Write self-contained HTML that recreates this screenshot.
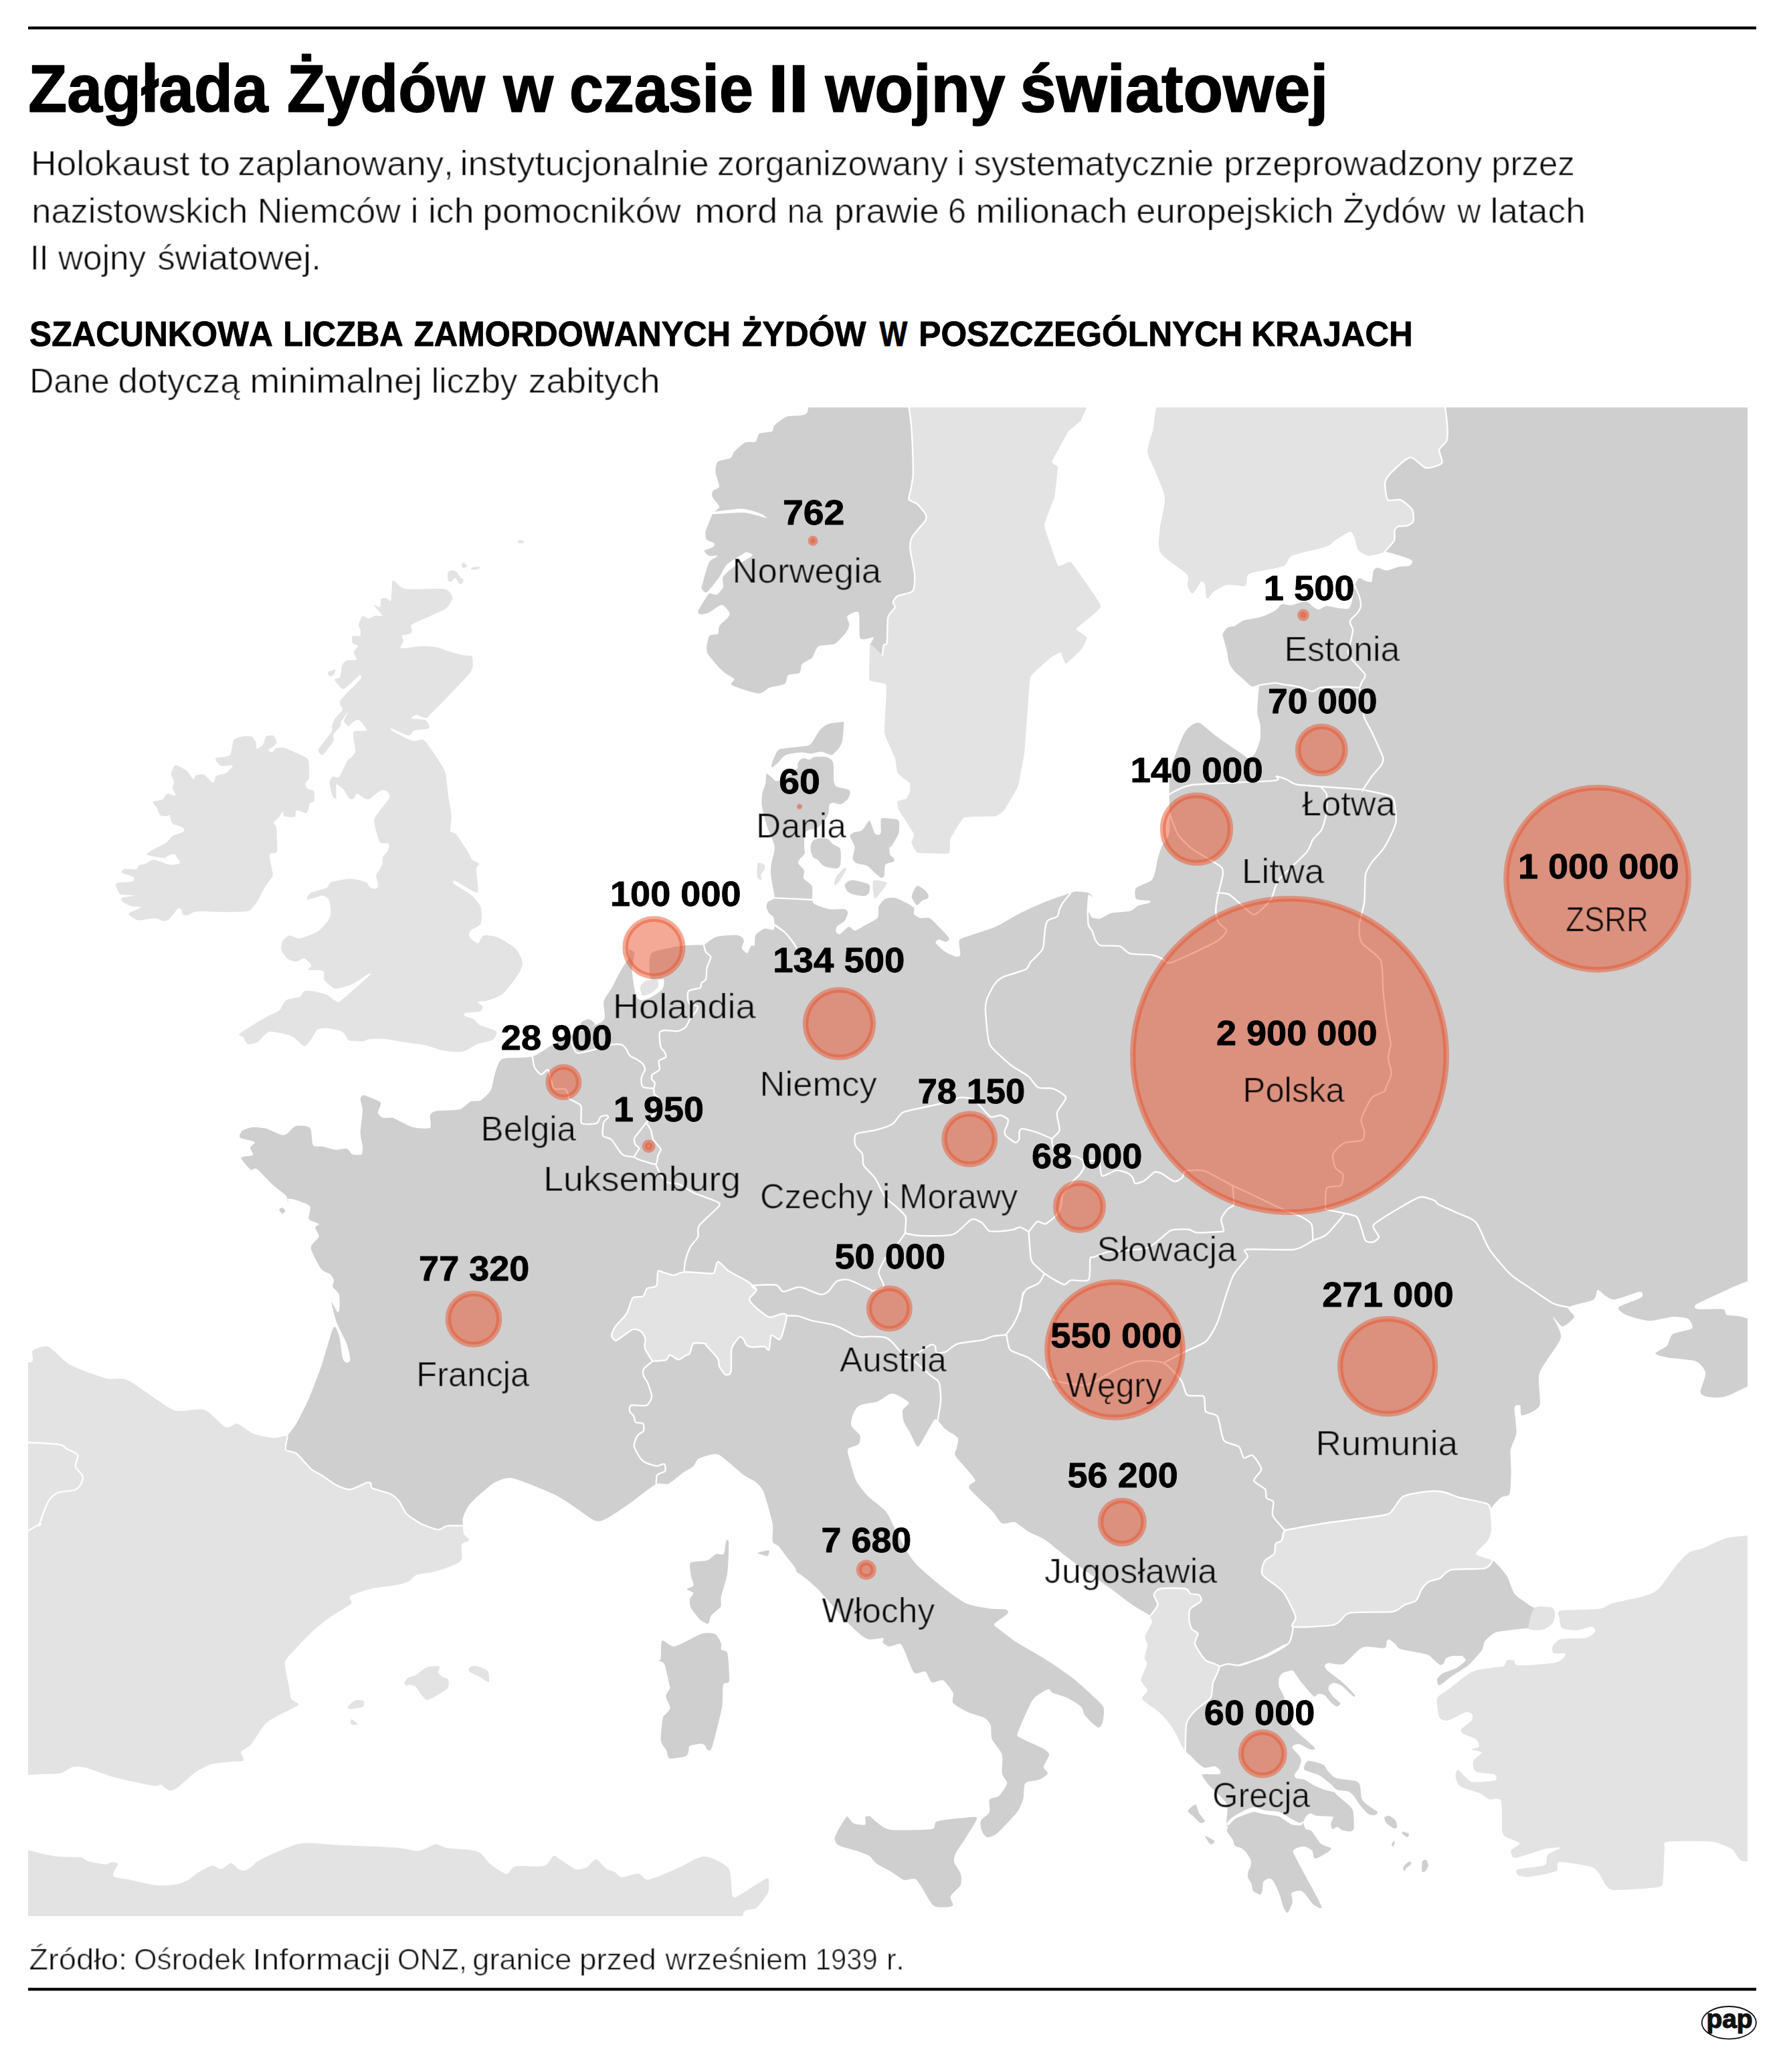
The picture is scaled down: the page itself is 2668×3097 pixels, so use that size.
<!DOCTYPE html><html lang="pl"><head><meta charset="utf-8"><title>Zagłada Żydów w czasie II wojny światowej</title>
<style>html,body{margin:0;padding:0;background:#fff}svg{display:block}text{font-family:"Liberation Sans",sans-serif;font-kerning:none}</style></head><body>
<svg width="2668" height="3097" viewBox="0 0 2668 3097">
<defs><filter id="thin" x="-2%" y="-20%" width="104%" height="140%"><feMorphology operator="erode" radius="1" result="e"/><feComponentTransfer in="SourceGraphic" result="f"><feFuncA type="linear" slope="0.55"/></feComponentTransfer><feMerge><feMergeNode in="f"/><feMergeNode in="e"/></feMerge></filter></defs>
<rect width="2668" height="3097" fill="#fff"/>
<rect x="42" y="39.6" width="2583" height="4.3" fill="#000"/>
<text stroke="#000" stroke-width="1.60" stroke-linejoin="round" y="166.7" font-size="100" font-weight="bold" fill="#000"><tspan x="42.3" textLength="358.5" lengthAdjust="spacingAndGlyphs">Zagłada</tspan> <tspan x="428.9" textLength="296.1" lengthAdjust="spacingAndGlyphs">Żydów</tspan> <tspan x="752.4" textLength="74.5" lengthAdjust="spacingAndGlyphs">w</tspan> <tspan x="851.0" textLength="275.0" lengthAdjust="spacingAndGlyphs">czasie</tspan> <tspan x="1148.2" textLength="60.6" lengthAdjust="spacingAndGlyphs">II</tspan> <tspan x="1233.4" textLength="269.1" lengthAdjust="spacingAndGlyphs">wojny</tspan> <tspan x="1524.5" textLength="460.9" lengthAdjust="spacingAndGlyphs">światowej</tspan></text>
<text filter="url(#thin)" y="262.0" font-size="52.5" font-weight="normal" fill="#000"><tspan x="46.0" textLength="237.3" lengthAdjust="spacingAndGlyphs">Holokaust</tspan> <tspan x="297.8" textLength="46.4" lengthAdjust="spacingAndGlyphs">to</tspan> <tspan x="355.4" textLength="322.5" lengthAdjust="spacingAndGlyphs">zaplanowany,</tspan> <tspan x="687.4" textLength="372.4" lengthAdjust="spacingAndGlyphs">instytucjonalnie</tspan> <tspan x="1072.0" textLength="345.0" lengthAdjust="spacingAndGlyphs">zorganizowany</tspan> <tspan x="1430.2">i</tspan> <tspan x="1455.4" textLength="358.7" lengthAdjust="spacingAndGlyphs">systematycznie</tspan> <tspan x="1829.2" textLength="386.0" lengthAdjust="spacingAndGlyphs">przeprowadzony</tspan> <tspan x="2229.3" textLength="124.5" lengthAdjust="spacingAndGlyphs">przez</tspan></text>
<text filter="url(#thin)" y="333.3" font-size="52.5" font-weight="normal" fill="#000"><tspan x="47.3" textLength="323.2" lengthAdjust="spacingAndGlyphs">nazistowskich</tspan> <tspan x="384.7" textLength="214.2" lengthAdjust="spacingAndGlyphs">Niemców</tspan> <tspan x="613.8">i</tspan> <tspan x="639.9" textLength="68.7" lengthAdjust="spacingAndGlyphs">ich</tspan> <tspan x="721.3" textLength="296.6" lengthAdjust="spacingAndGlyphs">pomocników</tspan> <tspan x="1038.2" textLength="124.0" lengthAdjust="spacingAndGlyphs">mord</tspan> <tspan x="1176.8" textLength="53.3" lengthAdjust="spacingAndGlyphs">na</tspan> <tspan x="1247.1" textLength="156.8" lengthAdjust="spacingAndGlyphs">prawie</tspan> <tspan x="1417.0" textLength="27.0" lengthAdjust="spacingAndGlyphs">6</tspan> <tspan x="1458.4" textLength="226.8" lengthAdjust="spacingAndGlyphs">milionach</tspan> <tspan x="1698.3" textLength="295.1" lengthAdjust="spacingAndGlyphs">europejskich</tspan> <tspan x="2007.6" textLength="152.8" lengthAdjust="spacingAndGlyphs">Żydów</tspan> <tspan x="2178.2" textLength="35.1" lengthAdjust="spacingAndGlyphs">w</tspan> <tspan x="2227.5" textLength="142.4" lengthAdjust="spacingAndGlyphs">latach</tspan></text>
<text filter="url(#thin)" y="403.0" font-size="52.5" font-weight="normal" fill="#000"><tspan x="45.0" textLength="27.6" lengthAdjust="spacingAndGlyphs">II</tspan> <tspan x="87.0" textLength="131.3" lengthAdjust="spacingAndGlyphs">wojny</tspan> <tspan x="235.2" textLength="244.7" lengthAdjust="spacingAndGlyphs">światowej.</tspan></text>
<text stroke="#000" stroke-width="0.82" stroke-linejoin="round" y="516.5" font-size="51.5" font-weight="bold" fill="#000"><tspan x="44.1" textLength="363.7" lengthAdjust="spacingAndGlyphs">SZACUNKOWA</tspan> <tspan x="423.3" textLength="179.4" lengthAdjust="spacingAndGlyphs">LICZBA</tspan> <tspan x="618.8" textLength="473.3" lengthAdjust="spacingAndGlyphs">ZAMORDOWANYCH</tspan> <tspan x="1109.0" textLength="185.5" lengthAdjust="spacingAndGlyphs">ŻYDÓW</tspan> <tspan x="1314.6" textLength="41.8" lengthAdjust="spacingAndGlyphs">W</tspan> <tspan x="1373.2" textLength="484.0" lengthAdjust="spacingAndGlyphs">POSZCZEGÓLNYCH</tspan> <tspan x="1870.6" textLength="241.0" lengthAdjust="spacingAndGlyphs">KRAJACH</tspan></text>
<text filter="url(#thin)" y="587.0" font-size="52.5" font-weight="normal" fill="#000"><tspan x="44.3" textLength="119.4" lengthAdjust="spacingAndGlyphs">Dane</tspan> <tspan x="176.5" textLength="182.2" lengthAdjust="spacingAndGlyphs">dotyczą</tspan> <tspan x="373.6" textLength="257.4" lengthAdjust="spacingAndGlyphs">minimalnej</tspan> <tspan x="644.8" textLength="128.7" lengthAdjust="spacingAndGlyphs">liczby</tspan> <tspan x="789.7" textLength="196.8" lengthAdjust="spacingAndGlyphs">zabitych</tspan></text>
<clipPath id="mc"><rect x="42" y="609" width="2570" height="2255"/></clipPath>
<g clip-path="url(#mc)">
<path d="M429.7,2146.7C431.5,2142.1 439.2,2134.5 442.9,2127.9C446.6,2121.3 457.3,2100.5 461.7,2090.4C466.1,2080.3 476.1,2054.0 480.4,2041.6C484.7,2029.2 495.3,1989.8 498.4,1984.5C501.5,1979.2 505.1,1991.2 506.7,1996.5C508.3,2001.8 511.0,2025.6 512.3,2030.3C513.6,2035.0 516.7,2036.5 518.0,2036.7C519.3,2036.9 523.6,2035.6 523.6,2032.2C523.6,2028.8 520.3,2014.1 518.0,2007.8C515.7,2001.5 506.3,1984.9 503.7,1977.8C501.1,1970.7 495.3,1948.5 495.4,1946.6C495.5,1944.7 503.4,1960.6 504.8,1961.6C506.2,1962.6 507.2,1958.4 507.4,1955.2C507.6,1952.0 507.9,1938.3 506.7,1934.6C505.5,1930.9 498.2,1925.7 497.3,1923.3C496.4,1920.9 499.6,1916.1 499.2,1913.9C498.8,1911.7 495.8,1906.6 493.6,1904.6C491.4,1902.6 483.8,1901.7 480.4,1897.1C477.0,1892.5 465.1,1870.9 464.7,1865.2C464.3,1859.5 476.0,1851.8 476.7,1848.3C477.4,1844.8 471.0,1837.3 471.0,1835.1C471.0,1832.9 477.8,1831.0 476.7,1829.5C475.6,1828.0 463.2,1825.1 461.7,1822.0C460.2,1818.9 465.7,1806.5 463.5,1803.2C461.3,1799.9 446.8,1795.1 442.9,1793.8C439.0,1792.5 431.1,1791.3 429.7,1792.0C428.3,1792.7 431.3,1800.5 431.1,1800.0C430.9,1799.5 430.4,1791.0 427.7,1787.6C425.0,1784.2 412.7,1775.5 407.6,1770.8C402.5,1766.1 387.9,1749.8 384.0,1747.2C380.1,1744.6 377.3,1750.2 374.6,1748.2C371.9,1746.2 360.1,1732.9 360.5,1730.4C360.9,1727.9 376.4,1728.2 378.0,1726.4C379.6,1724.6 373.6,1717.6 373.9,1715.3C374.2,1713.0 382.5,1708.7 380.7,1706.9C378.9,1705.1 361.0,1702.2 358.8,1700.2C356.6,1698.2 360.0,1691.9 362.2,1690.1C364.4,1688.3 373.2,1685.4 377.3,1685.0C381.4,1684.6 392.0,1685.3 397.5,1686.7C403.0,1688.1 419.3,1697.2 424.4,1696.8C429.5,1696.4 437.3,1685.0 441.2,1683.4C445.1,1681.8 455.3,1682.8 458.0,1683.4C460.7,1684.0 463.5,1685.1 464.7,1688.4C465.9,1691.7 466.1,1709.0 468.1,1711.9C470.1,1714.8 477.6,1712.8 481.5,1713.6C485.4,1714.4 497.4,1718.3 501.7,1718.7C506.0,1719.1 515.6,1716.2 518.5,1717.0C521.4,1717.8 524.4,1724.4 526.9,1725.4C529.4,1726.4 538.5,1726.8 540.3,1725.4C542.1,1724.0 542.2,1717.3 542.0,1713.6C541.8,1709.9 538.7,1699.7 538.7,1693.4C538.7,1687.1 542.0,1665.7 542.0,1659.8C542.0,1653.9 538.5,1645.7 538.7,1643.0C538.9,1640.3 540.4,1636.6 543.7,1637.0C547.0,1637.4 564.3,1644.7 567.2,1646.4C570.1,1648.1 569.2,1649.4 568.9,1651.4C568.6,1653.4 564.5,1661.0 564.9,1663.2C565.3,1665.4 569.9,1669.7 572.3,1670.6C574.7,1671.5 583.0,1670.1 585.7,1670.6C588.4,1671.1 592.1,1673.3 595.8,1675.0C599.5,1676.7 612.1,1683.8 617.6,1685.0C623.1,1686.2 639.9,1687.8 642.9,1685.7C645.9,1683.6 641.7,1669.5 642.9,1666.6C644.1,1663.7 647.8,1661.5 652.9,1660.5C658.0,1659.5 680.7,1659.8 686.6,1658.2C692.5,1656.6 699.7,1648.0 703.4,1646.4C707.1,1644.8 715.0,1646.7 718.5,1644.7C722.0,1642.7 731.1,1634.5 733.6,1629.6C736.1,1624.7 738.7,1607.8 740.3,1602.7C741.9,1597.6 745.1,1588.4 747.1,1585.9C749.1,1583.4 751.4,1582.3 757.1,1581.5C762.8,1580.7 787.9,1581.4 795.8,1579.2C803.7,1577.0 817.9,1565.9 824.4,1562.4C830.9,1558.9 846.3,1551.4 851.3,1548.9C856.3,1546.4 861.1,1544.0 867.1,1541.2C873.1,1538.4 898.3,1529.9 902.4,1524.7C906.5,1519.5 901.0,1502.0 902.4,1496.5C903.8,1491.0 911.6,1482.0 914.1,1477.6C916.6,1473.2 921.0,1463.3 923.5,1458.8C926.0,1454.3 933.2,1442.1 935.3,1438.8C937.4,1435.5 940.7,1432.9 941.2,1430.6C941.7,1428.3 939.2,1419.6 940.0,1418.8C940.8,1418.0 947.4,1421.9 948.2,1423.5C949.0,1425.1 947.5,1429.9 947.1,1432.9C946.7,1435.9 944.7,1445.0 944.7,1449.4C944.7,1453.8 946.7,1467.3 947.1,1470.6C947.5,1473.9 947.7,1475.3 948.2,1477.6C948.7,1479.9 950.6,1488.5 951.8,1490.6C953.0,1492.7 956.6,1495.2 958.8,1495.3C961.0,1495.4 967.8,1493.0 970.6,1491.8C973.4,1490.6 980.1,1486.4 982.4,1484.7C984.7,1483.0 989.5,1480.1 990.6,1477.6C991.7,1475.1 993.9,1465.1 991.8,1463.5C989.7,1461.9 975.4,1466.5 972.9,1463.5C970.4,1460.5 970.3,1442.3 970.6,1437.6C970.9,1432.9 971.5,1426.0 975.3,1423.5C979.1,1421.0 997.7,1417.7 1003.5,1416.5C1009.3,1415.3 1019.1,1413.4 1024.7,1412.9C1030.3,1412.4 1048.0,1412.7 1051.8,1412.2C1055.6,1411.7 1055.3,1409.6 1057.6,1408.2C1059.9,1406.8 1066.9,1401.2 1071.8,1400.0C1076.7,1398.8 1095.6,1397.5 1100.0,1397.6C1104.4,1397.7 1108.0,1400.1 1109.4,1401.2C1110.8,1402.3 1111.9,1405.2 1111.8,1407.1C1111.7,1409.0 1108.3,1415.5 1108.9,1417.6C1109.5,1419.7 1115.3,1425.1 1116.9,1424.7C1118.5,1424.3 1121.1,1415.5 1122.4,1414.1C1123.7,1412.7 1127.0,1414.8 1127.8,1412.9C1128.6,1411.0 1127.7,1400.5 1129.4,1397.6C1131.1,1394.7 1139.2,1389.2 1142.4,1388.2C1145.6,1387.2 1154.9,1391.3 1156.5,1389.4C1158.1,1387.5 1157.3,1374.7 1156.5,1371.8C1155.7,1368.9 1150.7,1366.6 1149.4,1364.7C1148.1,1362.8 1145.7,1357.2 1145.6,1355.2C1145.5,1353.2 1146.9,1349.2 1148.3,1347.7C1149.7,1346.2 1156.8,1344.8 1157.6,1342.1C1158.4,1339.4 1155.6,1328.8 1154.9,1324.5C1154.2,1320.2 1152.2,1308.8 1152.0,1304.9C1151.8,1301.0 1152.2,1295.8 1152.9,1291.2C1153.6,1286.6 1158.5,1272.2 1157.8,1265.7C1157.1,1259.2 1148.7,1242.2 1146.5,1235.1C1144.3,1228.0 1139.7,1210.5 1138.8,1204.9C1137.9,1199.3 1138.6,1191.2 1139.2,1187.3C1139.8,1183.4 1143.4,1175.1 1144.1,1171.6C1144.8,1168.1 1144.7,1158.3 1145.5,1156.9C1146.3,1155.5 1149.2,1158.6 1151.0,1159.8C1152.8,1161.0 1157.6,1167.6 1160.8,1167.6C1164.0,1167.6 1174.7,1162.1 1178.4,1159.8C1182.1,1157.5 1190.6,1150.1 1192.2,1148.0C1193.8,1145.9 1191.7,1143.7 1192.2,1142.2C1192.7,1140.7 1195.0,1136.3 1196.1,1135.3C1197.2,1134.3 1200.4,1133.3 1202.0,1133.3C1203.6,1133.3 1208.0,1135.5 1209.8,1135.3C1211.6,1135.1 1214.6,1131.9 1217.6,1131.4C1220.6,1130.9 1232.2,1130.7 1235.3,1131.4C1238.4,1132.1 1242.8,1135.4 1244.1,1137.3C1245.4,1139.2 1245.9,1144.7 1246.1,1148.0C1246.3,1151.3 1245.6,1162.5 1246.1,1165.7C1246.6,1168.9 1247.4,1173.8 1250.0,1175.5C1252.6,1177.2 1266.2,1179.1 1268.6,1180.4C1271.0,1181.7 1270.8,1184.6 1270.6,1186.3C1270.4,1188.0 1268.3,1193.3 1266.7,1195.1C1265.1,1196.9 1259.4,1201.4 1256.9,1202.0C1254.4,1202.6 1247.1,1199.9 1245.1,1200.0C1243.1,1200.1 1240.5,1200.7 1239.6,1202.9C1238.7,1205.1 1238.9,1214.9 1237.3,1218.6C1235.7,1222.3 1227.8,1231.9 1225.5,1234.3C1223.2,1236.7 1219.4,1238.5 1217.6,1239.2C1215.8,1239.9 1211.5,1239.4 1209.8,1240.2C1208.1,1241.0 1203.8,1243.1 1202.9,1246.1C1202.0,1249.1 1202.0,1262.3 1202.0,1265.7C1202.0,1269.1 1203.6,1273.4 1202.9,1275.5C1202.2,1277.6 1197.2,1281.6 1196.1,1283.3C1195.0,1285.0 1192.4,1288.1 1193.1,1290.2C1193.8,1292.3 1201.1,1298.4 1202.0,1301.0C1202.9,1303.6 1199.6,1310.0 1201.0,1312.7C1202.4,1315.4 1212.2,1320.8 1213.7,1324.5C1215.2,1328.2 1213.6,1340.9 1214.1,1344.1C1214.6,1347.2 1214.7,1349.8 1217.7,1351.5C1220.7,1353.2 1235.0,1358.1 1240.2,1359.0C1245.5,1359.9 1259.5,1358.3 1262.7,1359.0C1265.9,1359.7 1267.2,1362.6 1267.2,1364.6C1267.2,1366.6 1264.6,1373.5 1262.7,1375.9C1260.8,1378.3 1252.2,1383.2 1250.7,1385.2C1249.2,1387.2 1249.1,1391.4 1249.6,1392.7C1250.1,1394.0 1253.0,1397.4 1255.2,1396.5C1257.4,1395.6 1265.8,1385.9 1268.4,1385.2C1271.0,1384.5 1275.4,1390.9 1277.8,1390.9C1280.2,1390.9 1285.1,1387.4 1289.0,1385.2C1292.9,1383.0 1308.7,1375.6 1311.5,1372.1C1314.3,1368.6 1312.1,1358.5 1313.4,1355.2C1314.7,1351.9 1320.0,1345.4 1322.8,1343.9C1325.6,1342.4 1334.1,1341.4 1337.8,1342.1C1341.5,1342.8 1351.4,1347.8 1354.7,1349.6C1358.0,1351.3 1364.7,1355.1 1366.0,1357.1C1367.3,1359.1 1364.9,1364.8 1366.0,1366.5C1367.1,1368.2 1372.8,1371.4 1375.4,1372.1C1378.0,1372.8 1385.7,1371.0 1388.5,1372.1C1391.3,1373.2 1396.2,1378.0 1399.7,1381.5C1403.2,1385.0 1417.0,1399.0 1418.5,1402.1C1420.0,1405.2 1414.7,1407.6 1412.9,1407.8C1411.2,1408.0 1405.2,1403.8 1403.5,1404.0C1401.8,1404.2 1397.5,1407.4 1398.6,1409.6C1399.7,1411.8 1409.3,1420.4 1412.9,1422.8C1416.5,1425.2 1427.2,1429.9 1429.8,1430.3C1432.4,1430.7 1435.0,1429.1 1435.4,1426.5C1435.8,1423.9 1433.1,1410.6 1433.5,1407.8C1433.9,1405.0 1432.8,1404.7 1439.2,1402.1C1445.6,1399.5 1477.9,1389.6 1488.0,1385.2C1498.1,1380.8 1516.8,1369.0 1525.5,1364.6C1534.2,1360.2 1554.2,1351.2 1563.0,1347.7C1571.8,1344.2 1595.2,1336.3 1600.5,1334.5C1605.8,1332.7 1605.5,1332.5 1608.6,1332.5C1611.7,1332.5 1623.8,1333.4 1626.7,1334.5C1629.6,1335.6 1633.8,1341.2 1633.8,1341.6C1633.8,1342.0 1627.7,1335.7 1626.7,1337.6C1625.7,1339.5 1624.9,1354.4 1625.1,1357.7C1625.3,1361.0 1627.8,1364.2 1628.7,1365.8C1629.6,1367.4 1630.9,1371.0 1632.8,1371.8C1634.7,1372.6 1641.6,1373.7 1644.9,1372.9C1648.2,1372.1 1655.8,1366.1 1661.0,1364.8C1666.2,1363.5 1684.5,1363.1 1689.2,1361.8C1693.9,1360.5 1698.0,1355.1 1701.3,1353.7C1704.6,1352.3 1715.5,1350.5 1717.5,1349.7C1719.5,1348.9 1720.7,1347.3 1718.5,1346.6C1716.3,1345.9 1700.8,1345.7 1698.3,1343.6C1695.8,1341.5 1696.2,1331.0 1697.3,1328.5C1698.4,1326.0 1704.6,1323.9 1707.4,1322.4C1710.2,1320.9 1719.3,1317.6 1721.5,1315.4C1723.7,1313.2 1725.5,1307.1 1726.6,1303.3C1727.7,1299.5 1729.4,1287.6 1730.6,1283.1C1731.8,1278.6 1734.6,1269.5 1736.6,1265.0C1738.6,1260.5 1746.4,1253.5 1747.7,1244.8C1749.0,1236.1 1747.7,1198.8 1747.7,1190.3C1747.7,1181.8 1747.4,1176.6 1747.6,1172.2C1747.8,1167.8 1748.0,1157.4 1749.0,1152.5C1750.0,1147.6 1753.9,1136.0 1756.0,1130.1C1758.1,1124.2 1765.2,1106.7 1767.2,1102.1C1769.2,1097.5 1771.4,1093.2 1773.4,1090.9C1775.4,1088.6 1781.6,1083.1 1784.0,1082.0C1786.4,1080.9 1790.2,1079.2 1793.8,1081.1C1797.4,1083.0 1810.1,1094.3 1814.8,1097.9C1819.5,1101.5 1829.6,1108.5 1834.5,1111.9C1839.4,1115.3 1853.3,1124.8 1856.9,1127.3C1860.5,1129.8 1863.2,1132.9 1865.3,1132.9C1867.4,1132.9 1873.0,1130.6 1875.1,1127.3C1877.2,1124.0 1882.5,1110.1 1883.5,1104.9C1884.5,1099.7 1884.0,1087.1 1883.5,1082.5C1883.0,1077.9 1879.6,1070.9 1879.3,1065.7C1879.0,1060.5 1880.4,1042.5 1880.7,1037.7C1881.0,1032.9 1882.6,1025.7 1881.5,1024.3C1880.4,1022.9 1873.8,1027.1 1870.9,1025.9C1868.0,1024.7 1859.8,1016.4 1856.9,1013.9C1854.0,1011.4 1848.0,1006.7 1845.7,1004.1C1843.4,1001.5 1838.6,994.8 1837.3,991.5C1836.0,988.2 1835.3,979.9 1834.5,976.1C1833.7,972.3 1831.1,962.6 1830.3,959.3C1829.5,956.0 1827.0,950.6 1827.5,948.1C1828.0,945.6 1832.4,939.8 1834.5,938.3C1836.6,936.8 1842.8,936.8 1845.7,935.5C1848.6,934.2 1855.8,928.5 1859.7,927.1C1863.6,925.7 1875.7,924.2 1879.3,923.4C1882.9,922.6 1887.2,921.5 1890.5,920.1C1893.8,918.7 1904.4,913.7 1907.3,911.7C1910.2,909.7 1913.1,904.0 1915.7,903.2C1918.3,902.4 1925.5,905.1 1929.7,904.6C1933.9,904.1 1948.2,898.7 1952.1,899.0C1956.0,899.3 1961.0,906.1 1963.3,907.5C1965.6,908.9 1969.4,911.3 1971.7,911.1C1974.0,910.9 1977.7,906.4 1982.9,906.1C1988.1,905.8 2011.6,912.5 2016.5,908.9C2021.4,905.3 2023.1,880.4 2024.9,875.2C2026.7,870.0 2030.1,864.8 2031.9,864.0C2033.7,863.2 2038.2,867.5 2040.3,868.2C2042.4,868.9 2048.6,871.3 2050.1,869.6C2051.6,867.9 2051.8,855.9 2052.9,853.4C2054.0,850.9 2056.8,848.7 2059.1,848.6C2061.4,848.5 2068.8,853.0 2072.5,852.8C2076.2,852.6 2086.8,848.0 2090.8,847.2C2094.8,846.4 2104.3,846.8 2106.7,845.8C2109.1,844.8 2111.9,840.3 2111.2,838.8C2110.5,837.3 2105.4,834.8 2100.6,833.2C2095.8,831.6 2076.1,825.1 2069.7,824.8C2063.3,824.5 2050.5,830.7 2045.9,830.4C2041.3,830.1 2033.0,825.1 2030.5,822.0C2028.0,818.9 2026.4,807.0 2024.9,803.8C2023.4,800.6 2021.2,794.3 2017.9,794.6C2014.6,794.9 2001.0,804.1 1996.9,806.6C1992.8,809.1 1990.6,813.6 1982.9,816.4C1975.2,819.2 1938.6,827.0 1931.1,830.4C1923.6,833.8 1925.4,842.9 1918.5,845.8C1911.6,848.7 1878.7,853.8 1872.3,855.6C1865.9,857.4 1865.2,858.9 1863.9,861.2C1862.6,863.5 1864.5,873.7 1861.1,875.2C1857.7,876.7 1839.9,872.8 1834.5,873.8C1829.1,874.8 1818.3,881.2 1814.8,883.6C1811.3,886.0 1805.8,895.4 1804.2,894.3C1802.6,893.2 1802.5,876.7 1801.4,873.8C1800.4,870.9 1797.4,867.6 1795.2,869.1C1793.0,870.6 1784.9,886.3 1782.6,887.0C1780.3,887.7 1776.1,878.5 1775.1,875.2C1774.1,871.9 1778.9,864.1 1774.2,858.4C1769.5,852.7 1739.7,834.1 1735.0,826.2C1730.3,818.3 1733.2,800.0 1733.9,790.4C1734.6,780.8 1742.2,754.4 1741.4,744.3C1740.6,734.2 1729.9,712.0 1726.9,703.9C1723.9,695.8 1715.7,682.4 1715.4,675.0C1715.1,667.6 1722.8,647.1 1724.1,640.4C1725.4,633.7 1725.2,625.6 1726.9,617.3C1728.6,609.0 1738.5,569.0 1738.5,569.0C1738.5,569.0 2153.9,569.0 2153.9,569.0C2153.9,569.0 2652.0,569.0 2652.0,569.0C2652.0,569.0 2652.0,1899.1 2652.0,1899.1C2652.0,1899.1 2609.4,1915.9 2601.1,1919.3C2592.8,1922.7 2588.6,1924.4 2581.0,1927.9C2573.4,1931.4 2541.0,1945.9 2535.9,1949.3C2530.8,1952.7 2533.1,1955.9 2537.7,1956.8C2542.3,1957.7 2570.1,1955.8 2575.2,1956.8C2580.3,1957.8 2577.6,1964.1 2581.0,1965.4C2584.4,1966.7 2595.7,1965.9 2604.0,1968.3C2612.3,1970.7 2652.0,1985.6 2652.0,1985.6C2652.0,1985.6 2652.0,2052.0 2652.0,2052.0C2652.0,2052.0 2592.7,2082.4 2581.0,2086.6C2569.3,2090.8 2556.7,2088.5 2552.1,2087.8C2547.5,2087.1 2542.0,2085.0 2541.7,2080.8C2541.4,2076.6 2550.0,2057.4 2549.2,2052.0C2548.4,2046.6 2541.5,2037.4 2534.8,2034.7C2528.1,2032.0 2498.6,2030.3 2491.5,2028.9C2484.4,2027.5 2474.2,2025.1 2474.2,2023.1C2474.2,2021.1 2488.5,2015.0 2491.5,2011.6C2494.5,2008.2 2495.8,1997.3 2500.2,1994.3C2504.6,1991.3 2526.3,1988.3 2529.0,1985.6C2531.7,1982.9 2526.6,1973.2 2523.2,1971.2C2519.8,1969.2 2506.9,1968.0 2500.2,1968.3C2493.5,1968.6 2473.6,1974.4 2465.5,1974.1C2457.4,1973.8 2436.3,1967.8 2430.9,1965.4C2425.5,1963.0 2416.8,1956.9 2419.4,1953.9C2422.0,1950.9 2449.2,1942.2 2452.9,1939.5C2456.6,1936.8 2455.7,1930.5 2451.1,1930.8C2446.5,1931.1 2419.7,1941.7 2413.6,1942.4C2407.5,1943.1 2402.2,1938.3 2399.2,1936.6C2396.2,1934.9 2389.6,1927.2 2387.6,1927.9C2385.6,1928.6 2386.9,1939.4 2381.9,1942.4C2376.9,1945.4 2347.8,1950.9 2344.4,1953.9C2341.0,1956.9 2354.0,1964.9 2353.0,1968.3C2352.0,1971.7 2339.4,1982.7 2335.7,1982.7C2332.0,1982.7 2321.6,1966.3 2321.3,1968.3C2321.0,1970.3 2335.2,1990.3 2332.8,2000.1C2330.4,2009.9 2304.8,2040.2 2301.1,2052.0C2297.4,2063.8 2304.1,2093.6 2301.1,2101.0C2298.1,2108.4 2278.5,2115.5 2275.1,2115.5C2271.7,2115.5 2273.5,2102.4 2272.2,2101.0C2270.9,2099.6 2264.3,2099.2 2263.6,2103.9C2262.9,2108.6 2267.2,2134.0 2266.5,2141.4C2265.8,2148.8 2258.7,2160.6 2257.8,2167.4C2256.9,2174.2 2258.8,2192.4 2258.6,2200.0C2258.4,2207.6 2258.2,2228.3 2256.4,2232.8C2254.6,2237.3 2246.6,2235.7 2243.3,2238.5C2240.0,2241.3 2229.5,2251.1 2228.0,2256.8C2226.5,2262.5 2230.7,2281.8 2230.2,2287.4C2229.7,2293.0 2226.3,2300.8 2223.6,2304.9C2220.9,2309.0 2206.6,2319.3 2207.4,2322.4C2208.2,2325.5 2225.0,2327.3 2230.2,2331.1C2235.4,2334.9 2248.2,2349.2 2252.0,2355.1C2255.8,2361.0 2260.1,2377.0 2262.9,2381.3C2265.7,2385.6 2272.5,2389.7 2276.1,2392.3C2279.7,2394.9 2288.4,2401.9 2293.5,2403.2C2298.6,2404.5 2316.1,2401.9 2319.7,2403.2C2323.3,2404.5 2324.1,2411.3 2324.1,2414.1C2324.1,2416.9 2322.0,2424.6 2319.7,2427.2C2317.4,2429.8 2308.6,2435.2 2304.5,2436.0C2300.4,2436.8 2289.9,2433.8 2284.8,2433.8C2279.7,2433.8 2266.7,2435.2 2260.8,2436.0C2254.9,2436.8 2239.4,2438.3 2234.5,2440.3C2229.6,2442.3 2221.5,2450.3 2219.2,2453.4C2216.9,2456.5 2217.7,2462.5 2214.9,2466.6C2212.1,2470.7 2200.6,2483.8 2195.2,2488.4C2189.8,2493.0 2174.1,2502.3 2169.0,2505.9C2163.9,2509.5 2153.9,2518.5 2151.5,2519.0C2149.1,2519.5 2147.5,2512.3 2148.0,2510.3C2148.5,2508.3 2152.4,2503.5 2155.9,2501.5C2159.4,2499.5 2173.6,2495.1 2177.7,2492.8C2181.8,2490.5 2189.8,2483.7 2190.8,2481.8C2191.8,2479.9 2186.7,2477.0 2186.5,2476.2C2186.3,2475.4 2191.3,2475.4 2189.4,2475.3C2187.5,2475.2 2173.9,2474.9 2170.6,2475.3C2167.3,2475.7 2162.7,2477.4 2161.2,2478.8C2159.7,2480.2 2158.7,2486.0 2157.6,2487.1C2156.5,2488.2 2153.4,2488.9 2151.8,2488.2C2150.2,2487.5 2145.7,2483.0 2143.5,2481.2C2141.3,2479.4 2138.8,2474.8 2132.9,2472.9C2127.0,2471.0 2098.4,2466.5 2092.9,2464.7C2087.4,2462.9 2087.8,2459.2 2085.9,2457.6C2084.0,2456.0 2078.0,2451.1 2076.5,2450.6C2075.0,2450.1 2073.4,2451.8 2072.9,2452.9C2072.4,2454.0 2072.3,2458.8 2071.8,2460.0C2071.3,2461.2 2072.3,2463.2 2068.2,2463.5C2064.1,2463.8 2043.5,2459.6 2036.5,2462.4C2029.5,2465.2 2014.2,2484.4 2008.2,2487.1C2002.2,2489.8 1988.0,2485.5 1984.7,2485.9C1981.4,2486.3 1980.0,2489.2 1980.0,2490.6C1980.0,2492.0 1981.7,2494.9 1984.7,2497.6C1987.7,2500.3 2001.2,2510.0 2005.9,2514.1C2010.6,2518.2 2022.8,2530.4 2024.7,2532.9C2026.6,2535.4 2024.6,2536.8 2022.4,2535.3C2020.2,2533.8 2009.2,2522.3 2005.9,2520.0C2002.6,2517.7 1996.3,2515.4 1994.1,2515.3C1991.9,2515.2 1988.1,2517.6 1987.1,2518.8C1986.1,2520.0 1985.1,2523.7 1985.9,2525.9C1986.7,2528.1 1992.0,2535.3 1994.1,2537.6C1996.2,2539.9 2003.0,2544.4 2003.5,2545.9C2004.0,2547.4 2000.2,2550.5 1998.8,2550.6C1997.4,2550.7 1994.0,2549.0 1991.8,2547.1C1989.6,2545.2 1982.5,2535.9 1980.0,2534.1C1977.5,2532.3 1972.5,2531.7 1970.6,2531.8C1968.7,2531.9 1966.5,2537.4 1963.5,2535.3C1960.5,2533.2 1948.3,2518.5 1944.7,2514.1C1941.1,2509.7 1935.0,2499.5 1932.9,2497.6C1930.8,2495.7 1929.0,2497.2 1927.1,2497.6C1925.2,2498.0 1918.3,2500.0 1916.5,2501.2C1914.7,2502.4 1912.3,2505.9 1911.8,2508.2C1911.3,2510.5 1911.0,2518.0 1911.8,2521.2C1912.6,2524.4 1917.2,2530.1 1918.8,2535.3C1920.4,2540.5 1924.5,2560.7 1925.9,2565.9C1927.3,2571.1 1928.4,2576.7 1930.6,2580.0C1932.8,2583.3 1940.7,2590.4 1944.7,2594.1C1948.7,2597.8 1962.6,2609.3 1964.7,2611.8C1966.8,2614.3 1963.6,2615.2 1962.4,2615.3C1961.2,2615.4 1956.4,2613.9 1954.1,2612.9C1951.8,2611.9 1944.7,2607.6 1942.4,2607.1C1940.1,2606.6 1935.3,2607.5 1934.1,2608.2C1932.9,2608.9 1930.8,2611.0 1931.8,2612.9C1932.8,2614.8 1940.9,2622.5 1942.4,2624.7C1943.9,2626.9 1944.8,2629.6 1944.7,2631.8C1944.6,2634.0 1942.3,2641.2 1941.2,2643.5C1940.1,2645.8 1935.8,2650.2 1935.3,2651.8C1934.8,2653.4 1934.9,2656.6 1936.5,2657.6C1938.1,2658.6 1946.2,2658.8 1949.4,2660.0C1952.6,2661.2 1959.9,2666.4 1963.5,2668.2C1967.1,2670.0 1976.4,2674.1 1980.0,2675.3C1983.6,2676.5 1991.9,2677.8 1994.1,2678.8C1996.3,2679.8 1996.3,2681.3 1998.8,2683.5C2001.3,2685.7 2012.5,2694.8 2015.3,2697.6C2018.1,2700.4 2021.4,2703.0 2022.4,2707.1C2023.4,2711.2 2024.1,2729.3 2023.5,2732.9C2022.9,2736.5 2019.7,2737.3 2017.6,2737.6C2015.5,2737.9 2008.1,2736.1 2005.9,2735.3C2003.7,2734.5 2000.4,2730.7 1998.8,2730.6C1997.2,2730.5 1992.9,2734.6 1991.8,2734.1C1990.7,2733.6 1989.3,2728.0 1989.4,2725.9C1989.5,2723.8 1992.9,2717.7 1992.9,2716.5C1992.9,2715.3 1992.3,2715.6 1989.4,2715.3C1986.5,2715.0 1971.8,2714.6 1968.2,2714.1C1964.6,2713.6 1960.6,2710.6 1958.8,2710.6C1957.0,2710.6 1954.1,2712.6 1952.9,2714.1C1951.7,2715.6 1948.3,2721.2 1948.2,2723.5C1948.1,2725.8 1950.4,2732.6 1951.8,2734.1C1953.2,2735.6 1958.4,2735.3 1960.0,2736.5C1961.6,2737.7 1964.1,2742.4 1965.9,2744.7C1967.7,2747.0 1972.6,2754.4 1975.3,2756.5C1978.0,2758.6 1988.3,2761.0 1989.4,2762.4C1990.5,2763.8 1987.2,2766.4 1984.7,2768.2C1982.2,2770.0 1970.7,2776.8 1968.2,2777.6C1965.7,2778.4 1964.3,2776.7 1963.5,2775.3C1962.7,2773.9 1962.8,2767.7 1961.2,2765.9C1959.6,2764.1 1952.2,2760.4 1949.4,2760.0C1946.6,2759.6 1939.5,2761.4 1937.6,2762.4C1935.7,2763.4 1932.1,2764.8 1932.9,2768.2C1933.7,2771.6 1939.8,2782.3 1944.7,2791.8C1949.6,2801.3 1973.1,2842.9 1975.3,2849.4C1977.5,2855.9 1966.5,2849.4 1963.5,2847.1C1960.5,2844.8 1951.9,2831.9 1949.4,2829.4C1946.9,2826.9 1944.6,2825.9 1942.4,2825.9C1940.2,2825.9 1931.8,2827.3 1930.6,2829.4C1929.4,2831.5 1932.5,2840.1 1931.8,2843.5C1931.1,2846.9 1926.2,2857.8 1924.7,2858.8C1923.2,2859.8 1920.3,2855.2 1918.8,2851.8C1917.3,2848.4 1913.7,2834.2 1911.8,2829.4C1909.9,2824.6 1904.3,2813.1 1902.4,2810.6C1900.5,2808.1 1897.0,2807.9 1895.3,2808.2C1893.6,2808.5 1889.2,2811.0 1888.2,2812.9C1887.2,2814.8 1887.6,2822.5 1887.1,2824.7C1886.6,2826.9 1885.2,2831.7 1883.5,2831.8C1881.8,2831.9 1874.4,2827.8 1872.9,2825.9C1871.4,2824.0 1871.5,2817.6 1870.6,2815.3C1869.7,2813.0 1865.7,2808.1 1865.2,2805.9C1864.7,2803.7 1865.4,2798.4 1865.9,2796.5C1866.4,2794.6 1869.0,2791.3 1869.4,2789.4C1869.8,2787.5 1870.2,2782.5 1869.4,2780.0C1868.6,2777.5 1864.0,2770.3 1862.4,2768.2C1860.8,2766.1 1857.2,2763.5 1855.3,2762.4C1853.4,2761.3 1847.4,2760.3 1845.9,2758.8C1844.4,2757.3 1843.8,2751.9 1842.4,2749.4C1841.0,2746.9 1834.9,2739.8 1834.1,2737.6C1833.3,2735.4 1835.4,2732.0 1835.3,2730.6C1835.2,2729.2 1833.0,2729.8 1832.9,2725.9C1832.8,2722.1 1835.9,2703.1 1834.1,2697.6C1832.3,2692.1 1820.9,2682.4 1817.6,2678.8C1814.3,2675.2 1808.2,2669.8 1805.9,2667.1C1803.6,2664.4 1798.4,2657.1 1797.6,2655.3C1796.8,2653.5 1795.9,2652.2 1798.8,2651.8C1801.7,2651.4 1819.5,2652.5 1822.4,2651.8C1825.3,2651.1 1824.3,2647.3 1823.5,2645.9C1822.7,2644.5 1817.9,2640.4 1815.3,2640.0C1812.7,2639.6 1803.9,2642.8 1801.2,2642.4C1798.5,2642.0 1794.3,2638.6 1791.8,2636.5C1789.3,2634.4 1782.3,2627.0 1780.0,2624.7C1777.7,2622.4 1774.9,2621.5 1771.7,2616.6C1768.5,2611.7 1757.4,2589.5 1753.0,2582.9C1748.6,2576.3 1739.5,2565.3 1734.2,2560.3C1728.9,2555.3 1710.1,2543.6 1707.9,2539.7C1705.7,2535.8 1715.6,2529.9 1715.4,2526.6C1715.2,2523.3 1706.2,2516.1 1706.1,2511.5C1706.0,2506.9 1714.1,2491.0 1714.7,2487.1C1715.3,2483.2 1710.8,2481.1 1710.9,2477.8C1711.0,2474.5 1715.3,2462.7 1715.4,2459.0C1715.5,2455.3 1710.9,2449.8 1711.7,2445.9C1712.5,2442.0 1721.3,2428.8 1722.2,2425.2C1723.1,2421.6 1722.6,2418.2 1719.2,2415.1C1715.8,2412.0 1699.5,2403.4 1692.9,2398.9C1686.3,2394.4 1670.8,2382.1 1662.9,2376.4C1655.0,2370.7 1634.2,2356.4 1625.4,2350.1C1616.6,2343.8 1595.3,2327.7 1587.8,2322.0C1580.3,2316.3 1567.6,2305.2 1561.5,2301.3C1555.4,2297.4 1540.5,2291.3 1535.3,2288.2C1530.0,2285.1 1520.9,2276.4 1516.5,2275.1C1512.1,2273.8 1501.6,2278.9 1497.7,2276.9C1493.8,2274.9 1488.4,2264.3 1482.7,2258.2C1477.0,2252.1 1451.4,2229.6 1448.5,2224.3C1445.6,2219.0 1457.9,2215.8 1457.9,2213.0C1457.9,2210.2 1452.0,2204.3 1448.5,2199.9C1445.0,2195.5 1430.1,2179.7 1427.9,2175.5C1425.7,2171.3 1429.4,2167.3 1429.8,2164.2C1430.2,2161.1 1433.7,2152.5 1431.7,2149.2C1429.7,2145.9 1416.4,2139.2 1412.9,2136.1C1409.4,2133.0 1403.6,2124.4 1401.6,2122.9C1399.6,2121.4 1398.2,2120.3 1396.0,2122.9C1393.8,2125.5 1385.7,2140.8 1382.9,2145.4C1380.1,2150.0 1374.2,2162.7 1371.6,2162.3C1369.0,2161.9 1362.7,2146.1 1360.3,2141.7C1357.9,2137.3 1352.3,2128.7 1351.0,2124.8C1349.7,2120.9 1348.2,2111.2 1349.1,2107.9C1350.0,2104.6 1359.4,2099.2 1358.5,2096.6C1357.6,2094.0 1344.9,2086.9 1341.6,2085.4C1338.3,2083.9 1333.8,2082.4 1330.3,2083.5C1326.8,2084.6 1316.8,2092.8 1311.5,2094.8C1306.2,2096.8 1289.5,2098.4 1285.3,2100.4C1281.1,2102.4 1277.4,2108.2 1275.9,2111.7C1274.4,2115.2 1271.0,2126.5 1272.1,2130.4C1273.2,2134.3 1284.0,2142.1 1285.3,2145.4C1286.6,2148.7 1285.5,2156.2 1283.4,2158.6C1281.3,2161.0 1268.7,2163.3 1267.2,2166.1C1265.7,2168.9 1268.9,2177.5 1270.3,2183.0C1271.7,2188.5 1276.5,2206.9 1279.6,2213.0C1282.7,2219.1 1291.2,2230.0 1296.5,2235.5C1301.8,2241.0 1319.6,2253.5 1324.7,2259.9C1329.8,2266.3 1336.1,2282.6 1340.1,2290.1C1344.1,2297.6 1355.0,2317.8 1358.9,2323.9C1362.8,2330.0 1367.8,2336.7 1373.9,2342.6C1380.0,2348.5 1403.1,2368.1 1411.4,2374.5C1419.7,2380.9 1437.1,2393.6 1445.2,2397.1C1453.3,2400.6 1474.0,2403.6 1480.8,2404.6C1487.6,2405.6 1500.5,2404.8 1503.4,2405.7C1506.3,2406.6 1508.0,2409.6 1506.0,2412.1C1504.0,2414.6 1488.3,2424.7 1486.5,2427.1C1484.7,2429.5 1486.3,2429.4 1490.2,2432.7C1494.1,2436.0 1512.0,2449.7 1520.3,2455.2C1528.6,2460.7 1551.9,2473.5 1561.5,2479.6C1571.1,2485.7 1594.0,2501.0 1602.8,2507.8C1611.6,2514.6 1631.1,2532.6 1636.6,2537.8C1642.1,2543.1 1648.4,2548.4 1649.7,2552.8C1651.0,2557.2 1649.0,2572.0 1647.9,2575.4C1646.8,2578.8 1643.5,2583.0 1640.4,2581.7C1637.3,2580.4 1624.4,2567.7 1621.6,2564.1C1618.8,2560.5 1619.1,2554.1 1616.0,2551.0C1612.9,2547.9 1600.2,2540.2 1595.3,2537.8C1590.4,2535.4 1576.9,2531.8 1573.6,2530.3C1570.3,2528.8 1569.9,2524.3 1567.2,2524.7C1564.5,2525.1 1553.4,2531.7 1550.3,2534.1C1547.2,2536.5 1544.3,2538.7 1540.9,2545.3C1537.5,2551.9 1522.8,2584.3 1521.0,2590.4C1519.2,2596.5 1521.6,2595.3 1525.9,2597.9C1530.2,2600.5 1552.9,2610.1 1557.8,2612.9C1562.7,2615.7 1568.1,2619.0 1568.3,2622.3C1568.5,2625.6 1560.0,2637.7 1559.7,2641.0C1559.4,2644.3 1566.7,2648.2 1566.0,2650.4C1565.3,2652.6 1557.9,2658.1 1554.0,2659.8C1550.1,2661.6 1535.1,2662.1 1532.3,2665.4C1529.5,2668.7 1531.0,2683.0 1529.6,2688.0C1528.2,2693.0 1524.9,2702.5 1520.3,2708.6C1515.7,2714.7 1495.5,2736.1 1490.2,2740.5C1484.9,2744.9 1477.8,2746.5 1475.2,2746.1C1472.6,2745.7 1468.8,2739.6 1467.7,2736.8C1466.6,2734.0 1464.5,2725.0 1465.8,2721.7C1467.1,2718.4 1477.5,2712.3 1479.0,2708.6C1480.5,2704.9 1477.3,2692.6 1479.0,2689.8C1480.7,2687.0 1490.1,2687.0 1493.2,2684.2C1496.3,2681.4 1504.7,2669.3 1505.2,2665.4C1505.7,2661.5 1498.6,2655.4 1497.7,2650.4C1496.8,2645.4 1499.5,2628.2 1497.7,2622.3C1496.0,2616.4 1484.7,2604.7 1482.7,2599.7C1480.7,2594.7 1482.1,2582.8 1480.8,2579.1C1479.5,2575.4 1475.7,2570.2 1471.5,2567.8C1467.3,2565.4 1450.7,2561.1 1445.2,2558.5C1439.7,2555.9 1426.9,2548.6 1424.5,2545.3C1422.1,2542.0 1426.2,2534.2 1424.5,2530.3C1422.8,2526.4 1413.2,2513.3 1409.5,2511.5C1405.8,2509.7 1395.7,2516.0 1392.6,2514.5C1389.5,2513.0 1386.3,2500.1 1383.2,2498.4C1380.1,2496.7 1369.9,2503.6 1366.4,2500.3C1362.9,2497.0 1355.6,2475.3 1353.2,2470.3C1350.8,2465.3 1348.5,2458.2 1345.7,2457.1C1342.9,2456.0 1332.7,2461.1 1329.6,2460.9C1326.5,2460.7 1320.5,2456.6 1319.4,2455.2C1318.3,2453.8 1322.3,2449.1 1320.0,2448.5C1317.7,2447.9 1303.1,2450.8 1299.4,2450.4C1295.7,2450.0 1292.0,2447.9 1288.1,2444.8C1284.2,2441.7 1273.0,2432.0 1265.6,2424.1C1258.2,2416.2 1231.3,2384.6 1224.3,2377.2C1217.3,2369.8 1209.4,2363.6 1205.5,2360.3C1201.6,2357.0 1192.5,2351.1 1190.5,2349.1C1188.5,2347.1 1190.3,2346.0 1188.6,2343.4C1186.8,2340.8 1178.3,2330.3 1175.5,2326.6C1172.7,2322.9 1166.6,2314.1 1164.2,2311.5C1161.8,2308.9 1155.9,2307.9 1154.8,2304.0C1153.7,2300.1 1156.3,2286.3 1154.8,2277.8C1153.3,2269.3 1144.5,2238.0 1141.7,2230.8C1138.9,2223.6 1133.9,2218.9 1130.4,2215.8C1126.9,2212.7 1117.8,2209.2 1111.7,2204.6C1105.6,2200.0 1083.2,2180.0 1077.9,2176.4C1072.6,2172.8 1070.5,2173.0 1066.6,2173.4C1062.7,2173.8 1047.6,2178.1 1044.1,2180.2C1040.6,2182.3 1039.2,2189.0 1036.6,2191.4C1034.0,2193.8 1026.0,2197.7 1021.6,2200.8C1017.2,2203.9 1003.9,2215.6 999.1,2217.7C994.3,2219.8 986.9,2215.2 980.3,2218.5C973.7,2221.8 951.1,2240.1 942.8,2245.9C934.5,2251.7 915.1,2265.2 909.0,2268.4C902.9,2271.6 895.9,2275.1 890.2,2273.3C884.5,2271.6 867.2,2257.9 860.2,2253.4C853.2,2248.9 839.0,2239.0 830.2,2234.6C821.4,2230.2 793.2,2218.8 785.1,2215.8C777.0,2212.8 766.4,2208.9 760.7,2209.1C755.0,2209.3 743.1,2213.2 736.3,2217.7C729.5,2222.2 707.7,2241.8 702.5,2247.7C697.3,2253.6 693.2,2264.7 692.0,2268.4C690.8,2272.1 691.9,2278.2 692.0,2279.6C692.1,2281.0 695.3,2280.5 692.5,2280.6C689.7,2280.7 672.5,2279.9 668.1,2280.6C663.7,2281.3 659.4,2286.6 655.0,2286.3C650.6,2286.0 636.1,2280.7 630.6,2278.0C625.1,2275.3 611.9,2266.9 608.0,2263.0C604.1,2259.1 599.6,2247.8 596.8,2244.3C594.0,2240.8 588.3,2235.3 583.6,2233.0C578.9,2230.7 559.6,2226.2 556.2,2224.4C552.8,2222.6 555.4,2218.2 554.4,2217.2C553.4,2216.2 551.6,2215.0 548.0,2216.1C544.4,2217.2 528.9,2225.8 523.6,2226.2C518.3,2226.6 507.9,2222.4 502.9,2219.9C497.9,2217.4 484.8,2207.6 480.4,2204.8C476.0,2202.0 469.8,2200.0 465.4,2196.2C461.0,2192.4 447.4,2175.6 442.9,2172.2C438.4,2168.8 428.6,2170.3 427.1,2167.3C425.6,2164.3 427.9,2151.3 429.7,2146.7Z" fill="#cfcfcf"/>
<path d="M1085.4,2303.3C1086.3,2301.3 1089.0,2300.3 1089.2,2305.9C1089.4,2311.5 1088.6,2341.6 1087.3,2351.0C1086.0,2360.4 1079.1,2380.7 1077.9,2386.6C1076.7,2392.5 1078.8,2398.3 1077.1,2401.6C1075.3,2404.9 1065.1,2411.8 1062.9,2414.8C1060.7,2417.8 1060.4,2426.4 1058.4,2427.1C1056.4,2427.8 1049.0,2423.2 1046.0,2420.4C1043.0,2417.6 1034.7,2407.0 1032.9,2403.5C1031.2,2400.0 1030.6,2393.0 1031.0,2390.4C1031.4,2387.8 1037.1,2382.8 1036.6,2381.0C1036.1,2379.2 1026.5,2376.7 1026.5,2375.4C1026.5,2374.1 1035.9,2372.1 1036.6,2369.7C1037.3,2367.3 1033.4,2358.6 1032.9,2354.7C1032.4,2350.8 1029.3,2338.5 1032.1,2335.9C1034.9,2333.3 1052.8,2333.7 1057.3,2332.2C1061.8,2330.7 1067.6,2323.9 1070.4,2322.8C1073.2,2321.7 1080.0,2325.1 1081.7,2322.8C1083.5,2320.5 1084.5,2305.3 1085.4,2303.3Z" fill="#cfcfcf"/>
<path d="M1132.3,2320.9C1133.6,2320.2 1147.5,2316.6 1149.2,2317.2C1151.0,2317.8 1148.6,2325.1 1147.3,2325.8C1146.0,2326.5 1139.8,2324.2 1138.0,2323.6C1136.2,2323.0 1131.0,2321.6 1132.3,2320.9Z" fill="#cfcfcf"/>
<path d="M989.7,2452.3C992.1,2450.2 1001.7,2462.1 1008.5,2460.9C1015.3,2459.7 1040.9,2444.4 1047.9,2442.2C1054.9,2440.0 1065.0,2440.6 1068.5,2442.2C1072.0,2443.8 1076.8,2453.4 1077.9,2456.1C1079.0,2458.8 1076.8,2463.7 1077.9,2465.4C1079.0,2467.2 1085.9,2465.6 1087.3,2471.1C1088.7,2476.6 1090.6,2506.9 1089.9,2512.4C1089.2,2517.9 1082.2,2513.3 1080.9,2518.0C1079.6,2522.7 1081.0,2541.5 1079.0,2552.5C1077.0,2563.5 1066.6,2605.4 1064.0,2612.6C1061.4,2619.8 1057.7,2614.9 1056.5,2614.5C1055.3,2614.1 1054.5,2609.9 1053.5,2608.9C1052.5,2607.9 1050.5,2606.1 1047.9,2606.2C1045.3,2606.3 1033.2,2608.2 1031.0,2609.6C1028.8,2611.0 1029.8,2616.4 1029.1,2618.2C1028.4,2620.0 1027.9,2623.8 1024.6,2625.0C1021.3,2626.2 1004.3,2629.4 1001.0,2628.4C997.7,2627.4 997.6,2619.6 996.1,2616.4C994.6,2613.2 988.4,2607.0 987.8,2601.3C987.2,2595.6 989.9,2572.2 990.8,2567.6C991.7,2563.0 994.0,2563.7 995.3,2561.9C996.6,2560.1 1001.7,2555.6 1001.7,2552.5C1001.7,2549.4 995.3,2539.2 995.3,2535.7C995.3,2532.2 1001.0,2524.3 1001.7,2522.5C1002.4,2520.7 1002.0,2523.9 1001.0,2519.9C1000.0,2515.9 995.2,2492.4 993.4,2488.0C991.6,2483.6 985.9,2483.4 985.2,2482.3C984.5,2481.2 987.3,2482.1 987.8,2478.6C988.3,2475.1 987.3,2454.4 989.7,2452.3Z" fill="#cfcfcf"/>
<path d="M1775.5,2706.7C1775.9,2704.7 1784.8,2696.9 1786.8,2697.3C1788.8,2697.7 1790.7,2707.7 1792.4,2710.5C1794.1,2713.3 1800.8,2720.0 1801.0,2721.7C1801.2,2723.4 1796.4,2725.6 1794.3,2724.7C1792.2,2723.8 1785.2,2716.3 1783.0,2714.2C1780.8,2712.1 1775.1,2708.7 1775.5,2706.7Z" fill="#cfcfcf"/>
<path d="M1801.8,2744.3C1802.2,2743.8 1813.8,2750.4 1814.9,2751.8C1816.0,2753.2 1812.6,2757.2 1811.1,2756.3C1809.6,2755.4 1801.4,2744.8 1801.8,2744.3Z" fill="#cfcfcf"/>
<path d="M1265.6,2715.1C1264.1,2717.1 1256.4,2728.9 1254.3,2732.7C1252.2,2736.5 1247.7,2744.7 1247.6,2747.7C1247.5,2750.7 1249.8,2756.0 1253.6,2758.2C1257.4,2760.4 1275.3,2764.7 1280.6,2766.5C1285.9,2768.3 1296.0,2771.8 1299.4,2774.0C1302.8,2776.2 1306.4,2782.8 1310.1,2785.5C1313.8,2788.2 1325.9,2794.0 1330.7,2796.8C1335.5,2799.6 1346.7,2808.4 1351.3,2809.9C1355.9,2811.4 1365.1,2805.5 1370.1,2809.9C1375.1,2814.3 1389.2,2842.8 1394.5,2847.5C1399.8,2852.2 1411.7,2850.5 1415.2,2850.5C1418.7,2850.5 1423.8,2849.4 1424.5,2847.5C1425.2,2845.6 1419.5,2837.8 1420.8,2834.3C1422.1,2830.8 1434.0,2821.4 1435.8,2817.5C1437.5,2813.6 1436.9,2804.5 1435.8,2800.6C1434.7,2796.7 1427.3,2787.2 1426.4,2783.7C1425.5,2780.2 1426.1,2775.1 1428.3,2770.5C1430.5,2765.9 1441.5,2750.5 1445.2,2744.3C1448.9,2738.1 1461.1,2720.4 1460.2,2717.2C1459.3,2714.0 1444.7,2716.6 1437.7,2717.2C1430.7,2717.8 1405.4,2720.5 1400.1,2722.5C1394.8,2724.5 1400.7,2732.7 1392.6,2734.1C1384.5,2735.5 1340.3,2736.1 1330.7,2734.9C1321.1,2733.7 1313.6,2725.9 1310.1,2723.6C1306.6,2721.3 1302.7,2715.9 1300.7,2715.0C1298.7,2714.1 1294.1,2714.7 1293.2,2716.1C1292.3,2717.5 1295.2,2726.3 1293.2,2727.4C1291.2,2728.5 1279.4,2726.9 1276.3,2725.5C1273.2,2724.1 1268.1,2716.6 1266.9,2715.4C1265.7,2714.2 1267.1,2713.1 1265.6,2715.1Z" fill="#cfcfcf"/>
<path d="M1949.4,2644.7C1947.6,2642.2 1952.0,2632.6 1955.3,2631.8C1958.6,2631.0 1974.2,2635.8 1977.6,2637.6C1981.0,2639.4 1982.5,2644.8 1984.7,2647.1C1986.9,2649.4 1991.6,2655.8 1996.5,2657.6C2001.4,2659.4 2022.9,2661.0 2027.1,2662.4C2031.3,2663.8 2031.9,2666.4 2032.9,2669.4C2033.9,2672.4 2034.1,2684.9 2035.3,2688.2C2036.5,2691.5 2040.8,2695.3 2043.5,2697.6C2046.2,2699.9 2057.4,2706.4 2058.8,2708.2C2060.2,2710.0 2056.8,2712.5 2055.3,2712.9C2053.8,2713.3 2048.4,2713.3 2045.9,2711.8C2043.4,2710.3 2036.6,2703.0 2034.1,2700.0C2031.6,2697.0 2026.9,2688.5 2024.7,2685.9C2022.5,2683.3 2018.3,2678.8 2015.3,2677.6C2012.3,2676.4 2002.1,2676.8 1998.8,2675.3C1995.5,2673.8 1990.4,2667.3 1987.1,2664.7C1983.8,2662.1 1975.0,2655.2 1970.6,2652.9C1966.2,2650.6 1951.2,2647.2 1949.4,2644.7Z" fill="#cfcfcf"/>
<path d="M2069.4,2716.5C2069.9,2715.3 2074.6,2713.6 2076.5,2714.1C2078.4,2714.6 2084.5,2719.3 2085.9,2721.2C2087.3,2723.1 2088.5,2729.2 2088.2,2730.6C2087.9,2732.0 2085.4,2733.6 2083.5,2732.9C2081.6,2732.2 2073.4,2726.6 2071.8,2724.7C2070.2,2722.8 2068.9,2717.7 2069.4,2716.5Z" fill="#cfcfcf"/>
<path d="M2096.5,2737.6C2097.6,2737.6 2105.1,2740.2 2105.9,2741.2C2106.7,2742.2 2104.6,2745.9 2103.5,2745.9C2102.4,2745.9 2097.3,2742.2 2096.5,2741.2C2095.7,2740.2 2095.4,2737.6 2096.5,2737.6Z" fill="#cfcfcf"/>
<path d="M2081.2,2754.1C2081.7,2753.3 2084.4,2751.3 2084.7,2751.8C2085.0,2752.3 2084.0,2758.0 2083.5,2758.8C2083.0,2759.6 2080.3,2759.3 2080.0,2758.8C2079.7,2758.3 2080.7,2754.9 2081.2,2754.1Z" fill="#cfcfcf"/>
<path d="M2097.6,2790.6C2098.4,2788.8 2104.5,2782.9 2105.9,2782.4C2107.3,2781.9 2109.9,2784.7 2109.4,2785.9C2108.9,2787.1 2102.4,2791.5 2101.2,2792.9C2100.0,2794.3 2099.2,2797.9 2098.8,2797.6C2098.4,2797.3 2096.8,2792.4 2097.6,2790.6Z" fill="#cfcfcf"/>
<path d="M2125.9,2782.4C2126.6,2780.3 2130.8,2779.3 2131.8,2780.0C2132.8,2780.7 2134.9,2786.3 2134.8,2788.2C2134.7,2790.1 2131.7,2795.4 2130.6,2796.5C2129.5,2797.6 2125.9,2799.2 2125.4,2797.6C2124.9,2796.0 2125.2,2784.5 2125.9,2782.4Z" fill="#cfcfcf"/>
<path d="M1801.2,2744.7C1801.9,2744.2 1814.3,2750.4 1815.3,2751.8C1816.3,2753.2 1811.0,2757.3 1809.4,2756.5C1807.8,2755.7 1800.5,2745.2 1801.2,2744.7Z" fill="#cfcfcf"/>
<path d="M1208.3,569.0C1208.3,569.0 1210.1,610.7 1206.4,616.9C1202.7,623.1 1182.1,620.3 1176.4,622.5C1170.7,624.7 1160.2,633.1 1157.6,635.7C1155.0,638.3 1156.5,643.6 1153.9,645.0C1151.3,646.4 1137.9,646.2 1135.1,648.0C1132.3,649.8 1132.1,658.5 1129.5,660.1C1126.9,661.7 1116.3,660.1 1112.6,661.9C1108.9,663.6 1100.0,672.5 1097.6,675.1C1095.2,677.7 1094.8,682.8 1092.0,684.5C1089.2,686.2 1075.8,687.7 1073.2,690.1C1070.6,692.5 1069.2,700.7 1069.4,705.1C1069.6,709.5 1075.5,724.3 1075.1,727.6C1074.7,730.9 1066.9,731.5 1065.7,733.2C1064.5,735.0 1063.5,739.8 1064.6,742.6C1065.7,745.4 1075.0,754.8 1075.1,757.6C1075.2,760.4 1067.5,764.4 1065.7,767.0C1064.0,769.6 1061.4,776.9 1060.1,780.2C1058.8,783.5 1054.8,792.1 1054.4,795.2C1054.0,798.3 1054.8,804.4 1056.3,806.4C1057.8,808.4 1066.5,810.8 1067.6,812.1C1068.7,813.4 1067.5,816.4 1065.7,817.7C1063.9,819.0 1053.2,821.8 1052.5,823.3C1051.8,824.8 1057.7,829.9 1060.1,830.8C1062.5,831.7 1073.2,829.7 1073.2,830.8C1073.2,831.9 1062.7,835.6 1060.1,840.2C1057.5,844.8 1052.0,865.7 1050.7,870.3C1049.4,874.9 1048.1,877.9 1048.8,879.6C1049.5,881.4 1053.2,887.3 1056.3,885.3C1059.4,883.3 1071.6,867.5 1075.1,862.7C1078.6,857.9 1082.4,847.9 1086.3,844.0C1090.2,840.1 1105.4,831.2 1108.9,829.0C1112.4,826.8 1114.7,825.0 1116.4,825.2C1118.2,825.4 1126.5,828.0 1123.9,830.8C1121.3,833.6 1098.8,845.9 1093.8,849.6C1088.8,853.3 1082.2,859.4 1080.7,862.7C1079.2,866.0 1081.8,874.7 1080.7,877.8C1079.6,880.9 1073.7,887.9 1071.3,889.0C1068.9,890.1 1062.7,885.4 1060.1,887.1C1057.5,888.9 1050.8,900.9 1048.8,904.0C1046.8,907.1 1043.4,911.7 1043.2,913.4C1043.0,915.1 1044.9,918.1 1046.9,918.3C1048.9,918.5 1056.4,917.0 1060.1,915.3C1063.8,913.6 1075.3,904.0 1078.8,904.0C1082.3,904.0 1089.0,913.1 1090.1,915.3C1091.2,917.5 1090.0,920.4 1088.2,922.8C1086.5,925.2 1076.8,933.1 1075.1,935.9C1073.3,938.7 1075.0,945.4 1073.2,947.2C1071.5,949.0 1062.0,947.7 1060.1,951.0C1058.2,954.3 1054.7,969.3 1057.1,975.4C1059.5,981.5 1076.0,998.9 1080.7,1003.5C1085.4,1008.1 1096.1,1012.4 1097.6,1014.8C1099.1,1017.2 1089.6,1021.6 1093.8,1024.1C1098.0,1026.6 1126.6,1036.1 1133.2,1036.5C1139.8,1036.9 1145.5,1029.6 1150.1,1027.9C1154.7,1026.2 1169.4,1024.5 1172.7,1022.3C1176.0,1020.1 1175.7,1011.1 1178.3,1009.1C1180.9,1007.1 1192.8,1007.4 1195.2,1005.4C1197.6,1003.4 1196.7,994.8 1198.9,992.2C1201.1,989.6 1211.1,986.0 1213.9,982.9C1216.7,979.8 1219.4,968.4 1223.3,966.0C1227.2,963.6 1242.9,964.6 1247.7,962.2C1252.5,959.8 1262.1,948.6 1264.6,945.3C1267.1,942.0 1269.3,936.9 1269.5,934.1C1269.7,931.3 1264.9,923.1 1266.5,920.9C1268.1,918.7 1281.2,911.6 1283.4,915.3C1285.6,919.0 1283.8,948.2 1285.3,952.8C1286.8,957.4 1294.1,954.7 1296.5,954.7C1298.9,954.7 1305.5,951.7 1305.9,952.8C1306.3,953.9 1300.4,962.6 1300.3,964.1C1300.2,965.6 1302.6,964.2 1304.8,966.0C1307.0,967.8 1317.1,979.3 1319.0,979.1C1320.9,978.9 1320.1,966.3 1320.9,964.1C1321.7,961.9 1325.1,965.1 1325.8,960.3C1326.5,955.5 1325.9,928.9 1327.3,922.8C1328.7,916.7 1336.9,910.4 1337.8,907.8C1338.7,905.2 1334.4,902.3 1334.8,900.3C1335.2,898.3 1338.2,892.9 1341.6,890.9C1345.0,888.9 1361.1,887.1 1364.1,883.4C1367.1,879.7 1367.5,866.4 1367.1,859.0C1366.7,851.6 1360.7,826.2 1360.3,819.6C1359.9,813.0 1360.7,807.5 1363.3,802.7C1365.9,797.9 1380.5,782.2 1382.9,778.3C1385.3,774.4 1384.9,771.7 1383.6,768.9C1382.3,766.1 1374.2,756.3 1371.6,753.9C1369.0,751.5 1362.6,749.4 1361.1,748.3C1359.6,747.2 1358.1,749.1 1358.5,744.5C1358.9,739.9 1364.4,721.4 1364.8,708.9C1365.2,696.4 1363.6,653.8 1362.2,637.5C1360.8,621.2 1352.8,569.0 1352.8,569.0C1352.8,569.0 1208.3,569.0 1208.3,569.0Z" fill="#cfcfcf"/>
<path d="M1152.9,1144.1C1153.4,1142.0 1157.2,1131.3 1158.8,1128.4C1160.4,1125.5 1161.2,1121.2 1166.7,1119.6C1172.2,1118.0 1200.4,1115.8 1205.9,1114.7C1211.4,1113.6 1211.4,1112.5 1213.7,1109.8C1216.0,1107.1 1222.7,1094.4 1225.5,1091.2C1228.3,1088.0 1233.4,1083.8 1237.3,1082.4C1241.2,1081.0 1256.0,1079.1 1258.8,1079.0C1261.6,1078.9 1261.2,1078.1 1261.2,1081.4C1261.2,1084.7 1259.9,1102.8 1259.2,1106.9C1258.5,1111.0 1256.3,1114.5 1254.9,1116.7C1253.5,1118.9 1248.6,1124.1 1247.1,1125.5C1245.6,1126.9 1244.5,1128.6 1242.2,1128.4C1239.9,1128.2 1231.0,1123.7 1227.5,1123.5C1224.0,1123.3 1215.2,1126.4 1211.8,1126.5C1208.4,1126.6 1202.4,1124.3 1198.0,1124.5C1193.6,1124.7 1178.6,1126.6 1174.5,1128.4C1170.4,1130.2 1165.0,1138.1 1162.7,1140.2C1160.4,1142.3 1156.0,1146.0 1154.9,1146.5C1153.8,1147.0 1152.4,1146.2 1152.9,1144.1Z" fill="#cfcfcf"/>
<path d="M1211.8,1263.7C1212.2,1261.6 1214.1,1257.2 1215.7,1255.9C1217.3,1254.6 1223.0,1253.1 1225.5,1252.9C1228.0,1252.7 1235.0,1252.9 1237.3,1253.9C1239.6,1254.9 1243.0,1260.2 1245.1,1261.8C1247.2,1263.4 1253.5,1265.8 1254.9,1267.6C1256.3,1269.4 1256.8,1274.5 1256.9,1277.5C1257.0,1280.5 1256.6,1290.7 1255.9,1293.1C1255.2,1295.5 1253.4,1297.7 1251.0,1298.0C1248.6,1298.3 1238.0,1296.9 1235.3,1296.1C1232.6,1295.3 1229.0,1292.5 1227.5,1291.2C1226.0,1289.9 1223.9,1286.4 1222.5,1285.3C1221.1,1284.2 1216.9,1282.8 1215.7,1281.4C1214.5,1280.0 1212.7,1275.6 1212.2,1273.5C1211.7,1271.4 1211.4,1265.8 1211.8,1263.7Z" fill="#cfcfcf"/>
<path d="M1270.6,1250.0C1270.5,1247.5 1274.4,1245.1 1276.5,1244.1C1278.6,1243.1 1285.9,1242.8 1288.2,1241.2C1290.5,1239.6 1294.7,1232.1 1296.1,1230.4C1297.5,1228.7 1299.1,1225.8 1300.0,1226.5C1300.9,1227.2 1303.0,1234.0 1303.9,1236.3C1304.8,1238.6 1306.7,1244.7 1307.8,1246.1C1308.9,1247.5 1312.7,1248.2 1313.7,1248.0C1314.7,1247.8 1316.4,1246.8 1316.7,1244.1C1317.0,1241.4 1315.9,1227.0 1316.7,1224.5C1317.5,1222.0 1320.6,1222.9 1323.5,1222.9C1326.4,1222.9 1338.8,1224.0 1341.2,1224.9C1343.6,1225.8 1343.9,1227.9 1344.1,1230.4C1344.3,1232.9 1344.4,1242.2 1343.1,1246.1C1341.8,1250.0 1334.9,1261.2 1333.3,1263.7C1331.7,1266.2 1329.7,1266.0 1329.4,1267.6C1329.1,1269.2 1329.6,1275.7 1330.4,1277.5C1331.2,1279.3 1335.7,1282.1 1336.3,1283.3C1336.9,1284.5 1336.8,1287.2 1335.3,1288.2C1333.8,1289.2 1325.1,1289.8 1323.5,1292.2C1321.9,1294.6 1322.4,1306.5 1321.6,1308.8C1320.8,1311.1 1318.5,1312.5 1316.7,1311.8C1314.9,1311.1 1308.3,1305.0 1305.9,1302.9C1303.5,1300.8 1299.1,1295.6 1296.1,1294.1C1293.1,1292.6 1282.9,1291.5 1280.4,1290.2C1277.9,1288.9 1274.8,1286.2 1274.5,1283.3C1274.2,1280.4 1278.0,1269.6 1277.5,1265.7C1277.0,1261.8 1270.7,1252.5 1270.6,1250.0Z" fill="#cfcfcf"/>
<path d="M1262.7,1322.5C1262.9,1320.7 1267.0,1317.5 1268.6,1316.7C1270.2,1315.9 1273.3,1315.2 1276.5,1315.7C1279.7,1316.2 1293.4,1319.6 1296.1,1320.6C1298.8,1321.6 1299.7,1322.9 1300.0,1324.5C1300.3,1326.1 1299.9,1332.6 1299.0,1334.3C1298.1,1336.0 1294.8,1338.9 1292.2,1339.2C1289.6,1339.5 1279.5,1338.1 1276.5,1337.3C1273.5,1336.5 1268.3,1334.1 1266.7,1332.4C1265.1,1330.7 1262.5,1324.3 1262.7,1322.5Z" fill="#cfcfcf"/>
<path d="M1362.7,1340.2C1362.7,1336.8 1368.3,1325.2 1370.6,1324.1C1372.9,1323.0 1380.4,1328.8 1382.4,1330.4C1384.4,1332.0 1387.3,1336.7 1387.8,1338.2C1388.3,1339.7 1387.4,1342.2 1386.3,1343.1C1385.2,1344.0 1380.2,1345.0 1378.4,1346.1C1376.6,1347.2 1372.4,1353.6 1370.6,1352.9C1368.8,1352.2 1362.7,1343.6 1362.7,1340.2Z" fill="#cfcfcf"/>
<path d="M868.6,1528.0C869.9,1526.8 878.0,1523.0 880.4,1523.3C882.8,1523.6 889.2,1529.3 889.0,1530.8C888.8,1532.3 881.1,1535.6 878.8,1535.9C876.5,1536.2 870.6,1534.4 869.4,1533.5C868.2,1532.6 867.3,1529.2 868.6,1528.0Z" fill="#cfcfcf"/>
<path d="M417.4,1808.1C417.4,1807.0 421.1,1804.9 422.2,1805.1C423.2,1805.3 426.4,1809.0 426.4,1810.0C426.4,1811.0 422.9,1814.3 421.9,1814.1C420.8,1813.9 417.4,1809.1 417.4,1808.1Z" fill="#cfcfcf"/>
<path d="M429.7,2146.7C427.6,2144.6 415.0,2149.7 409.1,2149.3C403.2,2148.9 385.4,2145.4 379.1,2142.9C372.8,2140.4 359.5,2129.0 354.7,2127.9C349.9,2126.8 343.5,2135.9 337.8,2133.5C332.1,2131.1 313.8,2110.1 305.9,2107.3C298.0,2104.5 276.5,2109.5 270.2,2109.1C263.9,2108.7 260.7,2108.8 251.5,2103.5C242.3,2098.2 201.9,2068.2 191.4,2063.3C180.9,2058.4 168.8,2062.7 161.4,2061.1C154.0,2059.5 134.6,2052.5 127.6,2049.8C120.6,2047.1 107.8,2042.1 101.3,2037.8C94.8,2033.5 78.1,2014.9 72.0,2012.7C65.9,2010.5 51.7,2016.3 48.8,2019.0C45.9,2021.7 52.4,2033.5 46.9,2035.9C41.4,2038.3 2.0,2039.7 2.0,2039.7C2.0,2039.7 2.0,2657.1 2.0,2657.1C2.0,2657.1 42.2,2653.0 52.5,2652.2C62.8,2651.4 83.5,2651.7 90.1,2650.4C96.7,2649.1 104.4,2642.0 108.8,2641.0C113.2,2640.0 120.6,2640.3 127.6,2642.1C134.6,2643.8 157.1,2652.8 168.9,2656.0C180.7,2659.2 220.6,2667.8 228.9,2669.1C237.2,2670.4 238.0,2666.9 240.2,2667.3C242.4,2667.7 245.9,2671.8 247.7,2672.9C249.4,2674.0 253.0,2676.8 255.2,2676.6C257.4,2676.4 262.1,2674.3 266.5,2671.0C270.9,2667.7 287.0,2652.4 292.7,2648.5C298.4,2644.6 309.6,2638.9 315.3,2637.2C321.0,2635.4 335.8,2634.2 341.5,2633.5C347.2,2632.8 361.9,2633.3 364.1,2631.6C366.3,2629.8 359.0,2621.3 360.3,2618.5C361.6,2615.7 371.1,2612.0 375.3,2607.2C379.5,2602.4 391.6,2582.0 396.0,2577.2C400.4,2572.4 407.1,2569.3 412.9,2565.9C418.7,2562.5 443.3,2551.4 445.9,2548.3C448.5,2545.2 437.1,2543.0 435.4,2539.6C433.7,2536.2 432.7,2524.9 431.6,2519.0C430.5,2513.1 426.2,2493.8 426.0,2489.0C425.8,2484.2 424.9,2483.6 429.7,2477.7C434.5,2471.8 459.6,2445.5 467.3,2438.3C475.0,2431.1 488.7,2420.6 495.4,2415.8C502.1,2411.0 521.4,2400.5 524.7,2397.0C528.0,2393.5 520.0,2388.3 523.6,2385.7C527.2,2383.1 547.4,2376.5 555.5,2374.5C563.6,2372.5 586.4,2370.2 593.0,2368.9C599.6,2367.6 608.3,2365.0 611.8,2363.2C615.3,2361.4 618.3,2355.6 623.1,2353.8C627.9,2352.1 645.4,2350.6 653.1,2348.2C660.8,2345.8 684.4,2337.8 688.7,2333.2C693.0,2328.6 688.6,2312.3 689.9,2308.8C691.2,2305.3 698.7,2304.2 700.0,2303.2C701.3,2302.2 701.5,2301.5 700.7,2300.3C699.9,2299.1 694.2,2295.2 693.2,2292.8C692.2,2290.4 692.1,2281.0 692.0,2279.6C691.9,2278.2 695.3,2280.5 692.5,2280.6C689.7,2280.7 672.5,2279.9 668.1,2280.6C663.7,2281.3 659.4,2286.6 655.0,2286.3C650.6,2286.0 636.1,2280.7 630.6,2278.0C625.1,2275.3 611.9,2266.9 608.0,2263.0C604.1,2259.1 599.6,2247.8 596.8,2244.3C594.0,2240.8 588.3,2235.3 583.6,2233.0C578.9,2230.7 559.6,2226.2 556.2,2224.4C552.8,2222.6 555.4,2218.2 554.4,2217.2C553.4,2216.2 551.6,2215.0 548.0,2216.1C544.4,2217.2 528.9,2225.8 523.6,2226.2C518.3,2226.6 507.9,2222.4 502.9,2219.9C497.9,2217.4 484.8,2207.6 480.4,2204.8C476.0,2202.0 469.8,2200.0 465.4,2196.2C461.0,2192.4 447.4,2175.6 442.9,2172.2C438.4,2168.8 428.6,2170.3 427.1,2167.3C425.6,2164.3 431.8,2148.8 429.7,2146.7Z" fill="#e3e3e3"/>
<path d="M1319.0,979.1C1318.2,979.2 1305.7,966.8 1304.8,966.0C1303.9,965.2 1300.6,961.6 1300.3,964.1C1300.0,966.6 1298.3,1013.6 1299.5,1016.6C1300.7,1019.6 1323.6,1020.2 1324.7,1024.1C1325.8,1028.0 1321.4,1090.1 1322.1,1095.5C1322.8,1100.9 1336.8,1130.0 1337.8,1133.0C1338.8,1136.0 1340.5,1153.6 1341.6,1155.5C1342.7,1157.4 1359.4,1169.9 1360.3,1170.5C1361.2,1171.1 1360.3,1166.9 1360.3,1167.5C1360.3,1168.1 1360.6,1181.2 1360.3,1182.5C1360.0,1183.8 1355.6,1193.0 1354.7,1193.8C1353.8,1194.6 1342.2,1196.8 1341.6,1197.6C1341.0,1198.4 1342.2,1208.3 1343.4,1210.7C1344.6,1213.1 1365.1,1244.0 1366.0,1246.4C1366.9,1248.8 1361.9,1258.1 1362.2,1259.5C1362.5,1260.9 1368.8,1273.7 1371.6,1274.5C1374.4,1275.3 1416.1,1276.6 1418.5,1275.6C1420.9,1274.6 1419.3,1256.6 1420.4,1253.9C1421.5,1251.2 1437.6,1223.7 1441.0,1222.0C1444.4,1220.3 1485.0,1220.7 1488.0,1220.1C1491.0,1219.5 1499.5,1212.8 1501.1,1210.7C1502.7,1208.6 1518.8,1181.0 1519.9,1178.8C1521.0,1176.6 1523.0,1169.5 1523.6,1166.8C1524.2,1164.1 1530.4,1131.3 1531.1,1125.5C1531.8,1119.7 1536.3,1056.1 1536.8,1050.4C1537.3,1044.7 1538.8,1014.4 1540.5,1011.0C1542.2,1007.6 1568.2,984.7 1570.5,982.9C1572.8,981.1 1584.4,974.9 1585.5,975.4C1586.6,975.9 1591.6,992.4 1593.1,992.2C1594.6,992.0 1614.0,973.6 1615.6,971.6C1617.2,969.6 1625.3,954.4 1625.0,952.8C1624.7,951.2 1607.8,942.0 1608.8,939.7C1609.8,937.4 1646.0,910.9 1645.6,905.9C1645.2,900.9 1603.8,843.2 1600.6,840.2C1597.4,837.2 1583.8,848.6 1581.8,845.9C1579.8,843.2 1561.4,791.0 1561.1,785.8C1560.8,780.6 1575.2,747.0 1576.2,742.6C1577.2,738.2 1581.2,700.9 1581.0,698.3C1580.8,695.7 1571.6,692.8 1572.4,690.1C1573.2,687.4 1594.6,648.1 1596.8,645.0C1599.0,641.9 1613.3,632.0 1615.6,628.2C1617.8,624.4 1641.8,569.0 1641.8,569.0C1641.8,569.0 1352.8,569.0 1352.8,569.0C1352.8,569.0 1361.6,630.5 1362.2,637.5C1362.8,644.5 1365.0,703.5 1364.8,708.9C1364.6,714.2 1358.7,742.5 1358.5,744.5C1358.3,746.5 1360.4,747.8 1361.1,748.3C1361.8,748.8 1370.5,752.9 1371.6,753.9C1372.7,754.9 1383.0,767.7 1383.6,768.9C1384.2,770.1 1383.9,776.6 1382.9,778.3C1381.9,780.0 1364.4,800.6 1363.3,802.7C1362.2,804.8 1360.1,816.8 1360.3,819.6C1360.5,822.4 1366.9,855.8 1367.1,859.0C1367.3,862.2 1365.4,881.8 1364.1,883.4C1362.8,885.0 1343.1,890.1 1341.6,890.9C1340.1,891.7 1335.0,899.5 1334.8,900.3C1334.6,901.1 1338.2,906.7 1337.8,907.8C1337.4,908.9 1327.9,920.2 1327.3,922.8C1326.7,925.4 1326.1,958.2 1325.8,960.3C1325.5,962.4 1321.2,963.2 1320.9,964.1C1320.6,965.0 1319.8,979.0 1319.0,979.1Z" fill="#e3e3e3"/>
<path d="M669.7,855.6C670.5,853.8 674.9,852.3 676.5,852.3C678.1,852.3 681.8,854.3 683.2,855.6C684.6,856.9 687.1,862.2 688.2,863.4C689.3,864.6 692.2,864.8 692.6,865.7C693.0,866.6 692.2,869.9 691.6,870.8C691.0,871.7 688.2,873.6 687.2,873.1C686.2,872.6 684.1,867.8 683.2,866.7C682.3,865.6 680.8,863.7 679.8,864.0C678.8,864.3 676.0,868.7 674.8,869.1C673.6,869.5 670.3,869.0 669.7,867.4C669.1,865.8 668.9,857.4 669.7,855.6Z" fill="#e3e3e3"/>
<path d="M690.6,841.5C691.0,840.7 694.1,841.6 695.0,842.2C695.9,842.8 698.7,845.8 698.3,846.6C697.9,847.4 692.5,849.5 691.6,848.9C690.7,848.3 690.2,842.3 690.6,841.5Z" fill="#e3e3e3"/>
<path d="M705.0,848.2C706.4,847.7 715.6,846.9 716.8,847.2C718.0,847.5 716.5,850.1 715.1,850.6C713.7,851.1 706.2,851.9 705.0,851.6C703.8,851.3 703.6,848.7 705.0,848.2Z" fill="#e3e3e3"/>
<path d="M773.3,810.9C772.9,810.3 776.1,807.1 777.3,806.9C778.5,806.7 783.0,809.0 783.4,809.6C783.8,810.2 781.9,811.7 780.7,811.9C779.5,812.1 773.7,811.5 773.3,810.9Z" fill="#e3e3e3"/>
<path d="M489.9,1005.2C490.8,1004.0 499.9,1000.4 501.0,1000.8C502.1,1001.2 499.9,1007.4 499.0,1008.6C498.1,1009.8 494.4,1011.3 493.3,1010.9C492.2,1010.5 489.0,1006.4 489.9,1005.2Z" fill="#e3e3e3"/>
<path d="M587.4,867.4C589.2,867.1 597.5,876.9 600.8,878.5C604.1,880.1 608.9,880.6 616.0,880.8C623.1,881.0 654.8,879.8 661.3,880.2C667.8,880.6 669.6,882.6 671.4,884.2C673.2,885.8 676.5,891.3 676.5,893.6C676.5,895.9 672.8,901.7 671.4,903.7C670.0,905.7 668.8,908.0 664.7,910.4C660.6,912.8 641.0,921.7 636.1,923.9C631.2,926.1 625.2,928.3 622.7,929.6C620.2,930.9 615.1,933.7 614.3,935.3C613.5,936.9 616.1,941.6 616.0,943.0C615.9,944.4 615.1,946.2 613.3,947.1C611.5,948.0 602.0,949.1 600.8,950.4C599.6,951.7 603.4,956.0 603.2,958.2C603.0,960.4 596.3,968.0 599.2,968.9C602.1,969.8 621.4,966.1 627.7,965.9C634.0,965.7 648.0,966.7 652.9,967.6C657.8,968.5 665.2,971.9 669.7,973.3C674.2,974.7 687.5,978.4 691.6,979.3C695.7,980.2 703.2,979.2 705.0,980.7C706.8,982.2 706.9,989.0 706.7,991.8C706.5,994.6 706.9,999.6 703.4,1004.5C699.9,1009.4 683.6,1026.3 676.5,1033.8C669.4,1041.3 647.6,1063.8 642.9,1068.4C638.2,1073.0 638.5,1073.1 636.1,1073.1C633.7,1073.1 625.2,1068.3 622.7,1068.4C620.2,1068.5 613.4,1073.2 615.0,1074.1C616.6,1075.0 633.0,1074.8 636.1,1076.5C639.2,1078.2 643.2,1086.8 641.2,1088.6C639.2,1090.4 622.8,1090.7 619.3,1091.9C615.8,1093.1 614.7,1099.6 610.9,1099.3C607.1,1099.0 589.3,1090.1 586.4,1089.2C583.5,1088.3 582.2,1089.8 585.7,1091.9C589.2,1094.0 610.6,1105.5 616.0,1107.1C621.4,1108.7 629.0,1104.2 632.1,1105.4C635.2,1106.6 639.1,1112.3 642.9,1117.8C646.7,1123.3 661.6,1144.4 664.7,1152.4C667.8,1160.4 668.5,1178.8 669.7,1186.7C670.9,1194.6 674.4,1213.8 674.8,1220.3C675.2,1226.8 672.3,1239.1 673.1,1242.2C673.9,1245.3 678.4,1242.9 681.5,1246.6C684.6,1250.3 697.3,1269.7 700.0,1274.1C702.7,1278.5 703.2,1282.2 705.0,1284.2C706.8,1286.2 715.0,1289.1 715.8,1290.9C716.6,1292.7 712.1,1295.0 711.8,1300.0C711.5,1305.0 716.9,1331.8 713.4,1333.8C709.9,1335.8 685.6,1318.5 681.5,1317.0C677.4,1315.5 675.6,1318.7 678.2,1321.0C680.8,1323.3 698.7,1333.1 703.4,1337.1C708.1,1341.1 716.7,1350.5 718.5,1355.6C720.3,1360.7 720.3,1376.7 718.5,1380.8C716.7,1384.9 705.4,1388.6 703.4,1390.9C701.4,1393.2 700.5,1398.1 701.7,1400.3C702.9,1402.5 711.6,1410.3 714.1,1410.1C716.6,1409.9 719.4,1399.4 722.9,1398.3C726.4,1397.2 738.1,1398.7 743.7,1401.0C749.3,1403.3 766.3,1413.5 770.6,1417.8C774.9,1422.1 780.1,1433.7 780.7,1438.0C781.3,1442.3 778.9,1449.3 775.6,1454.8C772.3,1460.3 757.4,1480.3 752.1,1485.0C746.8,1489.7 734.7,1493.6 730.3,1495.1C725.9,1496.6 715.1,1496.7 714.1,1497.8C713.1,1498.9 721.5,1502.9 721.8,1504.5C722.1,1506.1 719.7,1510.8 716.8,1511.9C713.9,1513.0 699.3,1512.9 696.6,1513.6C693.9,1514.3 692.5,1516.8 693.9,1518.0C695.3,1519.2 705.7,1522.1 708.4,1523.7C711.1,1525.3 713.0,1530.0 716.8,1532.1C720.6,1534.2 738.9,1539.0 741.3,1541.5C743.7,1544.0 740.3,1551.7 737.0,1553.9C733.7,1556.1 718.7,1558.6 713.4,1560.7C708.1,1562.8 697.3,1570.6 691.6,1571.8C685.9,1573.0 671.2,1571.9 664.7,1570.8C658.2,1569.7 643.0,1563.9 636.1,1562.4C629.2,1560.9 613.0,1559.1 605.9,1558.0C598.8,1556.9 581.9,1553.4 575.6,1552.9C569.3,1552.4 556.0,1552.9 552.1,1553.3C548.2,1553.7 545.5,1556.1 542.0,1556.3C538.5,1556.5 525.3,1556.6 521.8,1555.0C518.3,1553.4 515.5,1544.3 511.8,1542.2C508.1,1540.1 494.2,1537.5 489.9,1537.1C485.6,1536.7 477.7,1536.8 474.8,1538.8C471.9,1540.8 467.1,1551.0 464.7,1553.9C462.3,1556.8 457.9,1564.0 454.6,1563.4C451.3,1562.8 442.2,1551.4 436.1,1548.9C430.0,1546.4 408.4,1541.2 402.5,1542.2C396.6,1543.2 389.4,1555.1 385.7,1557.3C382.0,1559.5 373.1,1561.5 370.6,1560.7C368.1,1559.9 365.4,1552.4 363.9,1550.6C362.4,1548.8 355.8,1547.9 357.8,1545.5C359.8,1543.1 375.7,1533.5 380.7,1530.4C385.7,1527.3 396.5,1521.0 400.8,1518.7C405.1,1516.4 414.5,1513.1 417.6,1510.3C420.7,1507.5 424.2,1497.5 427.7,1495.1C431.2,1492.7 444.8,1491.7 447.9,1490.1C451.0,1488.5 452.2,1482.7 454.6,1481.7C457.0,1480.7 464.2,1481.1 468.1,1481.7C472.0,1482.3 484.3,1485.0 488.2,1486.7C492.1,1488.4 499.1,1495.1 501.7,1496.1C504.3,1497.1 504.2,1499.5 510.1,1495.1C516.0,1490.7 547.5,1462.7 552.1,1458.2C556.7,1453.7 552.1,1455.1 549.4,1456.5C546.7,1457.9 534.2,1467.4 528.6,1469.9C523.0,1472.4 506.8,1478.2 501.7,1477.6C496.6,1477.0 487.1,1468.0 484.9,1464.9C482.7,1461.8 486.0,1453.2 483.2,1451.4C480.4,1449.6 462.8,1450.7 460.7,1449.7C458.6,1448.7 466.1,1445.0 465.4,1443.0C464.7,1441.0 457.2,1433.0 454.6,1432.3C452.0,1431.6 445.8,1437.2 442.9,1437.3C440.0,1437.4 432.0,1435.0 429.4,1432.9C426.8,1430.8 421.1,1422.6 420.3,1419.5C419.5,1416.4 421.2,1408.6 422.7,1406.1C424.2,1403.6 429.9,1398.7 432.8,1398.3C435.7,1397.9 443.0,1403.4 447.9,1402.7C452.8,1402.0 469.7,1395.9 474.8,1392.6C479.9,1389.3 489.3,1378.0 491.6,1374.1C493.9,1370.2 494.4,1362.5 494.3,1359.0C494.2,1355.5 492.4,1346.3 490.9,1343.9C489.4,1341.5 485.1,1338.7 481.5,1338.8C477.9,1338.9 461.7,1345.0 459.7,1344.5C457.7,1344.0 460.7,1336.8 464.0,1334.8C467.3,1332.8 484.6,1329.0 488.2,1327.1C491.8,1325.2 490.9,1320.3 495.0,1318.7C499.1,1317.1 517.4,1313.6 523.5,1313.6C529.6,1313.6 543.8,1317.3 547.1,1318.7C550.4,1320.1 550.5,1324.2 552.1,1325.4C553.7,1326.6 558.9,1328.9 560.5,1328.7C562.1,1328.5 565.3,1326.0 565.5,1323.7C565.7,1321.4 562.0,1311.4 562.2,1308.6C562.4,1305.8 566.1,1302.1 567.2,1300.0C568.3,1297.9 571.0,1293.1 571.6,1290.9C572.2,1288.7 571.4,1283.0 572.3,1280.8C573.2,1278.6 577.9,1274.4 579.0,1272.4C580.1,1270.4 581.7,1265.4 581.7,1264.0C581.7,1262.6 580.6,1260.6 579.0,1260.0C577.4,1259.4 570.1,1261.9 567.9,1259.0C565.7,1256.1 561.5,1239.6 560.5,1235.5C559.5,1231.4 558.5,1226.6 559.5,1223.7C560.5,1220.8 566.2,1214.0 568.9,1210.3C571.6,1206.6 581.2,1194.9 582.4,1191.8C583.6,1188.7 580.2,1184.7 579.0,1183.4C577.8,1182.1 574.1,1180.5 572.3,1180.7C570.5,1180.9 566.1,1183.5 563.9,1185.0C561.7,1186.5 555.8,1192.3 553.8,1193.4C551.8,1194.5 549.3,1195.3 547.1,1194.5C544.9,1193.7 537.1,1187.5 535.3,1186.7C533.5,1185.9 532.7,1186.8 531.9,1187.7C531.1,1188.6 529.8,1193.4 528.6,1194.1C527.4,1194.8 523.6,1195.0 521.8,1193.4C520.0,1191.8 515.4,1182.3 513.4,1180.0C511.4,1177.7 506.3,1174.0 505.0,1173.3C503.7,1172.6 502.7,1171.6 502.4,1173.9C502.1,1176.2 503.0,1191.5 502.4,1193.4C501.8,1195.3 498.5,1192.9 497.3,1190.1C496.1,1187.3 492.2,1172.7 492.3,1169.2C492.4,1165.7 496.6,1161.4 498.3,1160.5C500.0,1159.6 504.3,1164.1 506.7,1161.5C509.1,1158.9 516.3,1141.5 518.5,1138.0C520.7,1134.5 524.4,1133.1 525.9,1131.3C527.4,1129.5 531.0,1125.1 531.3,1122.2C531.6,1119.3 528.8,1109.5 528.6,1106.1C528.4,1102.7 526.9,1095.0 529.2,1093.3C531.5,1091.6 547.2,1093.6 548.1,1091.6C549.0,1089.6 539.3,1078.0 537.0,1076.5C534.7,1075.0 530.5,1077.5 528.6,1078.5C526.7,1079.5 522.5,1085.3 520.8,1085.2C519.1,1085.1 514.1,1080.1 514.1,1077.5C514.1,1074.9 521.3,1062.9 520.8,1063.0C520.3,1063.1 511.5,1075.8 510.1,1078.5C508.7,1081.2 509.8,1083.7 508.4,1085.9C507.0,1088.1 499.5,1095.1 498.3,1097.6C497.1,1100.1 500.1,1104.2 498.3,1107.7C496.5,1111.2 485.5,1125.7 483.2,1127.9C480.9,1130.1 479.0,1127.2 478.2,1126.2C477.4,1125.2 474.5,1123.2 476.5,1119.5C478.5,1115.8 492.7,1098.2 495.0,1094.3C497.3,1090.4 495.3,1088.3 496.0,1085.9C496.7,1083.5 498.9,1077.0 500.7,1074.1C502.5,1071.2 510.9,1063.8 511.8,1060.7C512.7,1057.6 505.3,1052.5 508.4,1047.2C511.5,1041.9 535.4,1019.7 538.7,1015.3C542.0,1010.9 539.0,1008.6 537.0,1009.6C535.0,1010.6 524.7,1021.4 521.8,1023.7C518.9,1026.0 514.3,1030.6 511.8,1029.7C509.3,1028.8 500.4,1018.1 500.0,1016.0C499.6,1013.9 507.1,1014.3 508.4,1011.9C509.7,1009.5 510.0,998.0 511.1,995.1C512.2,992.2 515.3,988.5 517.8,987.4C520.3,986.3 531.6,987.1 532.9,985.7C534.2,984.3 528.3,977.4 528.6,975.0C528.9,972.6 535.5,967.1 535.3,965.5C535.1,963.9 527.9,963.2 526.9,961.5C525.9,959.8 525.6,952.1 526.9,950.8C528.2,949.5 536.6,951.6 538.0,950.4C539.4,949.2 538.9,942.5 538.7,940.7C538.5,938.9 535.7,936.9 536.0,934.6C536.3,932.3 539.5,922.4 541.3,921.2C543.1,920.0 549.2,924.6 551.4,924.5C553.6,924.4 558.1,920.7 560.5,920.2C562.9,919.7 571.8,922.0 571.6,920.2C571.4,918.4 559.2,905.9 558.8,904.4C558.4,902.9 566.9,908.2 568.2,907.1C569.5,906.0 568.4,896.8 569.6,895.3C570.8,893.8 576.6,893.9 578.3,894.3C580.0,894.6 583.1,899.9 584.0,898.3C584.9,896.7 585.3,884.4 585.7,880.8C586.1,877.2 585.6,867.7 587.4,867.4Z" fill="#e3e3e3"/>
<path d="M349.4,1106.1C351.6,1102.8 359.8,1101.3 362.9,1100.7C366.0,1100.1 374.0,1100.0 376.3,1101.0C378.6,1102.0 381.5,1107.3 382.4,1109.4C383.3,1111.5 382.8,1118.7 384.0,1119.2C385.2,1119.7 390.9,1115.9 392.4,1114.1C393.9,1112.3 395.7,1105.0 396.5,1103.4C397.3,1101.8 397.7,1100.4 399.2,1100.0C400.7,1099.6 407.6,1098.7 409.2,1100.0C410.8,1101.3 414.2,1108.3 413.3,1110.8C412.4,1113.3 402.2,1119.6 401.5,1121.2C400.8,1122.8 405.6,1124.5 406.9,1124.2C408.2,1123.9 410.6,1119.2 412.6,1118.5C414.6,1117.8 419.4,1116.3 424.4,1117.8C429.4,1119.3 451.3,1128.9 455.6,1131.3C459.9,1133.7 460.6,1135.1 461.3,1138.7C462.0,1142.3 462.6,1158.4 462.0,1162.2C461.4,1166.0 456.6,1169.3 456.3,1171.3C456.0,1173.3 458.2,1177.7 459.7,1179.0C461.2,1180.3 467.9,1180.3 469.1,1182.4C470.3,1184.5 470.4,1194.7 469.7,1196.8C469.0,1198.9 464.0,1199.4 463.0,1200.8C462.0,1202.2 462.0,1207.5 461.3,1209.2C460.6,1210.9 459.3,1214.8 457.3,1215.0C455.3,1215.2 446.3,1211.1 444.5,1210.9C442.7,1210.7 442.3,1212.4 441.8,1213.6C441.3,1214.8 442.5,1220.3 440.5,1221.0C438.5,1221.7 427.1,1221.0 425.0,1220.0C422.9,1219.0 423.6,1212.5 422.7,1212.6C421.8,1212.7 419.2,1219.0 417.6,1221.0C416.0,1223.0 409.7,1227.4 409.2,1229.4C408.7,1231.4 412.7,1233.3 413.3,1237.8C413.9,1242.3 414.4,1263.8 414.3,1268.1C414.2,1272.4 413.9,1273.8 412.6,1274.8C411.3,1275.8 404.5,1274.9 403.5,1276.5C402.5,1278.1 403.7,1284.5 404.2,1288.2C404.7,1291.9 408.4,1304.3 407.6,1308.4C406.8,1312.5 400.1,1319.2 397.5,1323.5C394.9,1327.8 388.3,1341.3 385.7,1345.4C383.1,1349.5 377.6,1356.8 375.6,1358.8C373.6,1360.8 373.6,1361.7 368.9,1362.2C364.2,1362.7 343.5,1363.2 335.3,1363.2C327.1,1363.2 303.8,1362.1 298.3,1362.2C292.8,1362.3 290.4,1363.2 288.2,1363.9C286.0,1364.6 281.6,1367.9 279.8,1368.2C278.0,1368.5 274.2,1367.3 273.1,1366.2C272.1,1365.1 271.6,1359.8 270.8,1358.8C270.0,1357.8 267.7,1357.0 266.4,1357.8C265.1,1358.6 261.3,1363.6 259.7,1365.5C258.1,1367.4 254.6,1372.6 252.9,1373.9C251.2,1375.2 247.3,1376.7 245.2,1376.6C243.1,1376.5 236.7,1373.3 234.5,1372.9C232.3,1372.5 229.2,1372.6 226.1,1372.9C223.0,1373.2 210.6,1375.6 207.6,1375.6C204.6,1375.6 202.6,1374.1 200.8,1372.9C199.0,1371.7 191.2,1367.5 192.4,1365.5C193.6,1363.5 210.5,1357.4 210.9,1356.1C211.3,1354.8 199.1,1355.5 195.8,1354.5C192.5,1353.5 184.0,1348.6 182.4,1347.1C180.8,1345.6 180.3,1343.0 182.4,1342.0C184.5,1341.0 200.4,1339.3 200.2,1338.7C200.0,1338.1 183.5,1337.8 180.7,1337.0C177.9,1336.2 177.4,1333.9 176.6,1331.9C175.8,1329.9 171.5,1321.8 173.9,1320.2C176.3,1318.6 194.5,1318.9 197.5,1317.8C200.5,1316.7 201.6,1312.7 199.8,1311.1C198.0,1309.5 184.0,1305.8 182.4,1304.4C180.8,1303.0 183.3,1299.6 185.7,1299.0C188.1,1298.4 200.6,1300.0 203.2,1299.3C205.8,1298.6 205.9,1294.3 207.6,1293.3C209.3,1292.3 215.0,1291.9 217.6,1290.9C220.2,1289.9 226.0,1284.7 230.1,1284.9C234.2,1285.1 248.5,1291.6 252.9,1292.3C257.3,1293.0 265.6,1291.6 267.4,1290.9C269.2,1290.2 268.9,1288.3 268.1,1286.6C267.3,1284.9 262.5,1277.3 260.3,1276.5C258.1,1275.7 251.4,1279.1 249.6,1279.8C247.8,1280.5 248.0,1282.9 244.5,1282.5C241.0,1282.1 218.9,1279.2 219.3,1276.5C219.7,1273.8 243.4,1262.8 247.9,1259.7C252.4,1256.6 255.0,1251.5 258.0,1249.6C261.0,1247.7 271.8,1244.8 273.8,1243.5C275.8,1242.2 275.5,1239.5 274.8,1238.5C274.1,1237.5 270.1,1235.4 268.1,1234.5C266.1,1233.6 259.0,1232.3 257.3,1230.4C255.6,1228.5 254.5,1219.5 253.6,1218.3C252.7,1217.1 251.2,1220.0 249.6,1220.0C248.0,1220.0 241.3,1220.1 239.5,1218.7C237.7,1217.3 235.8,1210.0 234.5,1207.6C233.2,1205.2 227.7,1200.0 228.7,1198.5C229.7,1197.0 240.5,1196.5 242.9,1195.1C245.3,1193.7 247.3,1187.1 249.6,1186.4C251.9,1185.7 261.4,1190.1 262.4,1189.1C263.4,1188.1 258.3,1180.4 258.0,1178.0C257.7,1175.6 260.3,1170.7 260.0,1168.2C259.7,1165.7 255.3,1159.4 255.6,1156.5C255.9,1153.6 259.6,1144.2 262.4,1143.7C265.2,1143.2 276.1,1149.6 279.2,1152.1C282.3,1154.6 287.3,1164.1 288.9,1164.9C290.5,1165.7 290.7,1159.6 292.6,1158.8C294.5,1158.0 302.0,1156.9 305.0,1158.2C308.0,1159.5 316.3,1169.7 318.5,1169.9C320.7,1170.1 321.3,1161.2 323.5,1159.5C325.7,1157.8 334.8,1157.3 337.6,1155.5C340.4,1153.7 348.6,1145.7 347.7,1144.4C346.8,1143.1 333.2,1146.0 330.3,1144.7C327.4,1143.4 320.9,1135.5 322.5,1133.6C324.1,1131.7 340.6,1131.8 343.7,1128.6C346.8,1125.4 347.2,1109.4 349.4,1106.1Z" fill="#e3e3e3"/>
<path d="M604.3,2515.2C604.6,2513.8 607.9,2509.0 609.9,2507.7C611.9,2506.4 617.9,2505.8 621.2,2504.0C624.5,2502.2 633.9,2493.5 638.1,2492.0C642.3,2490.5 654.8,2489.8 656.8,2490.8C658.8,2491.8 654.3,2498.3 655.0,2500.2C655.7,2502.1 660.8,2505.8 662.5,2507.0C664.2,2508.2 669.3,2508.6 670.0,2510.7C670.7,2512.8 671.6,2521.1 668.1,2524.6C664.6,2528.1 644.3,2539.7 639.9,2540.8C635.5,2541.9 632.8,2536.3 630.6,2534.0C628.4,2531.7 623.4,2522.8 621.2,2520.9C619.0,2519.0 613.4,2518.0 611.8,2517.9C610.2,2517.8 608.2,2520.0 607.3,2519.7C606.4,2519.4 604.0,2516.6 604.3,2515.2Z" fill="#e3e3e3"/>
<path d="M519.8,2550.9C520.7,2549.4 528.3,2542.5 531.1,2541.5C533.9,2540.5 542.2,2541.2 543.5,2542.3C544.8,2543.4 544.7,2549.5 542.4,2550.9C540.1,2552.3 526.2,2554.6 523.6,2554.6C521.0,2554.6 518.9,2552.4 519.8,2550.9Z" fill="#e3e3e3"/>
<path d="M525.5,2569.7C526.7,2569.7 534.9,2576.3 534.8,2577.2C534.7,2578.1 525.8,2578.1 524.7,2577.2C523.6,2576.3 524.3,2569.7 525.5,2569.7Z" fill="#e3e3e3"/>
<path d="M700.7,2493.6C701.6,2492.5 706.8,2489.4 710.1,2489.8C713.4,2490.2 726.4,2494.5 728.8,2497.3C731.2,2500.1 732.0,2513.1 730.7,2514.2C729.4,2515.3 720.9,2508.4 717.6,2506.7C714.3,2504.9 704.5,2500.7 702.5,2499.2C700.5,2497.7 699.8,2494.7 700.7,2493.6Z" fill="#e3e3e3"/>
<path d="M2.0,2755.5C2.0,2755.5 52.1,2768.2 61.9,2770.5C71.7,2772.8 79.5,2774.3 86.3,2775.0C93.1,2775.7 114.8,2775.3 120.1,2776.1C125.3,2776.9 126.9,2780.5 131.3,2781.7C135.7,2782.9 153.4,2786.4 157.6,2786.6C161.8,2786.8 164.8,2783.6 167.0,2783.6C169.2,2783.6 176.2,2784.2 176.4,2786.2C176.6,2788.2 169.3,2798.2 168.9,2800.5C168.5,2802.8 169.5,2805.0 172.6,2806.1C175.7,2807.2 188.0,2808.5 195.2,2809.9C202.4,2811.3 226.7,2817.3 234.6,2818.1C242.5,2818.9 257.2,2817.6 262.7,2816.6C268.2,2815.6 277.6,2812.0 281.5,2809.9C285.4,2807.8 292.3,2801.1 296.5,2798.6C300.7,2796.1 313.2,2789.1 317.1,2788.5C321.0,2787.9 327.0,2794.1 330.3,2793.7C333.6,2793.3 342.2,2784.7 345.3,2784.7C348.4,2784.7 354.2,2792.4 356.6,2793.7C359.0,2795.0 363.5,2796.5 365.9,2796.0C368.3,2795.5 374.6,2791.1 377.2,2789.2C379.8,2787.3 380.2,2783.8 388.5,2779.9C396.8,2776.0 434.3,2758.0 448.5,2755.5C462.7,2753.0 493.5,2757.4 510.4,2758.1C527.3,2758.8 579.9,2760.8 593.0,2761.8C606.1,2762.8 618.1,2766.6 623.1,2766.7C628.1,2766.8 632.9,2764.2 636.2,2763.0C639.5,2761.8 647.5,2756.3 651.2,2756.2C654.9,2756.1 662.4,2761.2 668.1,2762.2C673.8,2763.2 694.2,2763.9 700.0,2764.8C705.8,2765.7 713.8,2767.0 717.6,2769.5C721.4,2772.0 728.0,2782.3 732.6,2786.0C737.2,2789.7 752.6,2800.6 757.0,2801.0C761.4,2801.4 763.5,2791.2 770.1,2789.8C776.7,2788.4 806.6,2790.8 813.3,2789.0C820.0,2787.2 824.4,2775.1 827.2,2774.0C830.0,2772.9 833.9,2777.3 837.7,2779.6C841.6,2781.9 855.6,2792.6 860.2,2793.9C864.8,2795.2 874.3,2792.1 877.1,2790.9C879.9,2789.7 882.9,2784.7 884.6,2783.4C886.4,2782.1 889.5,2778.4 892.1,2779.6C894.7,2780.8 904.0,2791.8 907.1,2793.9C910.2,2796.0 915.8,2796.3 918.4,2797.7C921.0,2799.1 925.4,2805.6 929.6,2805.9C933.8,2806.2 949.4,2799.9 954.0,2800.3C958.6,2800.7 962.2,2810.6 969.0,2809.7C975.8,2808.8 1002.5,2796.9 1012.2,2792.8C1021.9,2788.7 1043.4,2774.8 1052.4,2774.8C1061.4,2774.8 1084.3,2785.9 1089.2,2792.8C1094.1,2799.7 1092.8,2829.5 1094.8,2834.1C1096.8,2838.7 1100.2,2835.3 1106.1,2832.2C1112.0,2829.1 1140.5,2809.8 1145.5,2807.8C1150.5,2805.8 1149.0,2812.7 1149.2,2815.3C1149.4,2817.9 1149.5,2826.1 1147.3,2830.3C1145.1,2834.5 1134.6,2848.4 1130.4,2851.7C1126.2,2855.0 1114.6,2852.4 1111.7,2858.5C1108.8,2864.6 1105.3,2904.0 1105.3,2904.0C1105.3,2904.0 2.0,2904.0 2.0,2904.0C2.0,2904.0 2.0,2755.5 2.0,2755.5Z" fill="#e3e3e3"/>
<path d="M2652.0,2785.5C2652.0,2785.5 2611.2,2783.7 2603.8,2781.2C2596.4,2778.7 2593.9,2767.0 2588.5,2763.7C2583.1,2760.4 2569.1,2754.1 2557.9,2752.8C2546.7,2751.5 2500.6,2751.5 2492.4,2752.8C2484.2,2754.1 2488.8,2757.3 2488.0,2763.7C2487.2,2770.1 2486.8,2800.8 2485.8,2807.4C2484.8,2814.0 2487.6,2818.5 2479.2,2820.5C2470.8,2822.5 2422.9,2825.2 2413.7,2824.9C2404.5,2824.6 2404.3,2822.1 2400.6,2818.3C2396.9,2814.5 2390.4,2796.2 2382.2,2792.1C2374.0,2788.0 2337.2,2782.9 2330.7,2783.4C2324.2,2783.9 2331.4,2794.0 2326.3,2796.5C2321.2,2799.0 2293.6,2804.4 2287.0,2805.2C2280.4,2806.0 2271.6,2804.3 2269.5,2803.0C2267.4,2801.7 2264.0,2796.1 2268.6,2794.3C2273.2,2792.5 2303.6,2790.3 2308.8,2787.7C2314.0,2785.1 2310.4,2775.5 2313.2,2772.4C2316.0,2769.3 2333.4,2762.5 2332.9,2761.5C2332.4,2760.5 2316.7,2761.9 2308.8,2763.7C2300.9,2765.5 2271.0,2776.5 2265.1,2776.8C2259.2,2777.1 2257.8,2768.4 2258.6,2765.9C2259.4,2763.4 2272.5,2757.3 2271.7,2755.0C2270.9,2752.7 2255.1,2748.2 2252.0,2746.2C2248.9,2744.2 2246.5,2743.9 2245.5,2737.5C2244.5,2731.1 2245.6,2697.2 2243.3,2691.6C2241.0,2686.0 2229.4,2690.7 2225.8,2689.4C2222.2,2688.1 2217.8,2683.0 2212.7,2680.7C2207.6,2678.4 2186.4,2672.8 2182.1,2669.7C2177.8,2666.6 2175.8,2657.3 2175.5,2654.5C2175.2,2651.7 2177.1,2644.7 2179.9,2645.7C2182.7,2646.7 2193.2,2661.4 2199.6,2663.2C2206.0,2665.0 2230.5,2662.3 2234.5,2661.0C2238.5,2659.7 2237.0,2653.8 2233.7,2652.3C2230.4,2650.8 2209.8,2650.2 2206.1,2647.9C2202.4,2645.6 2200.8,2635.9 2201.8,2632.6C2202.8,2629.3 2215.2,2621.5 2214.9,2619.5C2214.6,2617.5 2200.1,2616.1 2199.6,2615.1C2199.1,2614.1 2209.7,2612.6 2210.5,2610.8C2211.3,2609.0 2208.9,2602.1 2206.1,2599.8C2203.3,2597.5 2189.0,2592.9 2186.5,2591.1C2184.0,2589.3 2182.8,2586.8 2184.3,2584.5C2185.8,2582.2 2197.7,2573.9 2199.6,2571.4C2201.5,2568.9 2201.5,2564.1 2200.5,2562.7C2199.5,2561.3 2195.0,2558.2 2190.8,2559.2C2186.6,2560.2 2169.2,2570.5 2164.6,2571.4C2160.0,2572.3 2153.4,2570.9 2151.5,2567.1C2149.6,2563.3 2146.5,2543.6 2148.0,2538.7C2149.5,2533.8 2158.6,2530.1 2164.6,2525.5C2170.6,2520.9 2191.9,2503.1 2199.6,2499.3C2207.3,2495.5 2224.6,2493.8 2230.2,2492.8C2235.8,2491.8 2245.1,2491.9 2247.6,2490.6C2250.1,2489.3 2250.2,2482.8 2252.0,2481.8C2253.8,2480.8 2260.9,2480.9 2262.9,2481.8C2264.9,2482.7 2262.1,2488.9 2269.5,2489.3C2276.9,2489.7 2318.0,2486.9 2326.3,2484.9C2334.6,2482.9 2340.8,2473.4 2340.3,2471.8C2339.8,2470.2 2324.1,2472.3 2321.9,2470.9C2319.7,2469.5 2319.8,2462.4 2321.1,2460.0C2322.4,2457.6 2327.2,2451.3 2332.9,2449.9C2338.6,2448.5 2364.0,2449.4 2370.0,2448.2C2376.0,2447.0 2382.9,2441.4 2384.0,2439.5C2385.1,2437.6 2382.8,2431.9 2379.6,2431.6C2376.4,2431.3 2362.1,2436.5 2356.9,2436.8C2351.7,2437.1 2338.1,2435.9 2335.0,2433.8C2331.9,2431.7 2330.9,2421.6 2330.7,2418.5C2330.5,2415.4 2325.8,2409.2 2332.9,2407.6C2340.0,2406.0 2382.9,2405.8 2391.8,2404.5C2400.7,2403.2 2401.6,2398.8 2409.3,2396.6C2417.0,2394.4 2449.2,2388.2 2457.4,2385.7C2465.6,2383.2 2473.6,2380.2 2479.2,2374.8C2484.8,2369.4 2500.1,2346.2 2505.5,2339.8C2510.9,2333.4 2520.5,2323.2 2525.1,2320.2C2529.7,2317.2 2537.9,2317.1 2544.8,2314.5C2551.7,2311.9 2571.6,2300.9 2584.1,2298.3C2596.6,2295.7 2652.0,2292.6 2652.0,2292.6C2652.0,2292.6 2652.0,2785.5 2652.0,2785.5Z" fill="#e3e3e3"/>
<path d="M2293.5,2403.2C2297.6,2399.6 2316.1,2401.9 2319.7,2403.2C2323.3,2404.5 2324.1,2411.3 2324.1,2414.1C2324.1,2416.9 2322.0,2424.6 2319.7,2427.2C2317.4,2429.8 2308.6,2435.2 2304.5,2436.0C2300.4,2436.8 2286.1,2437.6 2284.8,2433.8C2283.5,2430.0 2289.4,2406.8 2293.5,2403.2Z" fill="#e3e3e3"/>
<path d="M1305.5,1316.3C1307.8,1314.4 1324.5,1317.1 1325.5,1319.6C1326.5,1322.0 1315.8,1334.6 1313.7,1337.3C1311.6,1340.0 1308.8,1343.2 1307.8,1343.1C1306.8,1343.0 1305.8,1339.4 1305.5,1336.3C1305.2,1333.2 1303.2,1318.2 1305.5,1316.3Z" fill="#e3e3e3"/>
<path d="M1247.1,1318.6C1247.4,1316.9 1249.3,1311.3 1251.0,1308.8C1252.7,1306.3 1260.2,1298.5 1261.8,1297.5C1263.4,1296.5 1265.5,1297.8 1264.7,1300.0C1263.9,1302.2 1256.8,1314.0 1254.9,1316.7C1253.0,1319.4 1248.9,1323.3 1248.0,1323.5C1247.1,1323.7 1246.8,1320.3 1247.1,1318.6Z" fill="#e3e3e3"/>
<path d="M1132.4,1290.8C1133.1,1288.4 1137.0,1289.9 1138.2,1290.2C1139.4,1290.5 1142.6,1291.8 1143.1,1293.1C1143.6,1294.4 1142.9,1299.4 1142.2,1301.0C1141.5,1302.6 1137.8,1305.2 1137.3,1306.9C1136.8,1308.6 1138.8,1315.2 1138.2,1315.7C1137.6,1316.2 1132.5,1313.7 1131.8,1310.8C1131.1,1307.9 1131.7,1293.2 1132.4,1290.8Z" fill="#e3e3e3"/>
<path d="M1733.9,790.4C1734.6,780.8 1742.2,754.4 1741.4,744.3C1740.6,734.2 1729.9,712.0 1726.9,703.9C1723.9,695.8 1715.7,682.4 1715.4,675.0C1715.1,667.6 1722.8,647.1 1724.1,640.4C1725.4,633.7 1725.2,625.6 1726.9,617.3C1728.6,609.0 1738.5,569.0 1738.5,569.0C1738.5,569.0 2153.9,569.0 2153.9,569.0C2153.9,569.0 2161.6,618.6 2162.6,628.9C2163.6,639.2 2163.9,652.7 2162.6,657.7C2161.3,662.7 2152.0,668.1 2151.1,672.1C2150.2,676.1 2157.5,689.1 2155.1,692.3C2152.7,695.5 2136.4,700.2 2130.9,699.2C2125.4,698.2 2113.9,682.8 2107.8,683.7C2101.7,684.6 2083.3,702.4 2078.9,706.8C2074.5,711.2 2070.8,716.5 2070.3,721.2C2069.8,725.9 2071.6,744.1 2074.3,747.1C2077.0,750.1 2089.2,745.4 2093.4,747.1C2097.6,748.8 2108.5,757.9 2110.7,761.6C2112.9,765.3 2113.3,776.1 2112.4,778.9C2111.5,781.7 2106.1,784.7 2103.4,785.6C2100.7,786.5 2091.6,786.0 2089.4,787.0C2087.2,788.0 2085.0,791.5 2084.3,794.0C2083.6,796.5 2085.5,804.4 2083.8,808.0C2082.1,811.6 2074.1,822.2 2069.7,824.8C2065.3,827.4 2050.5,830.7 2045.9,830.4C2041.3,830.1 2033.0,825.1 2030.5,822.0C2028.0,818.9 2026.4,807.0 2024.9,803.8C2023.4,800.6 2021.2,794.3 2017.9,794.6C2014.6,794.9 2001.0,804.1 1996.9,806.6C1992.8,809.1 1990.6,813.6 1982.9,816.4C1975.2,819.2 1938.6,827.0 1931.1,830.4C1923.6,833.8 1925.4,842.9 1918.5,845.8C1911.6,848.7 1878.7,853.8 1872.3,855.6C1865.9,857.4 1865.2,858.9 1863.9,861.2C1862.6,863.5 1864.5,873.7 1861.1,875.2C1857.7,876.7 1839.9,872.8 1834.5,873.8C1829.1,874.8 1818.3,881.2 1814.8,883.6C1811.3,886.0 1805.8,895.4 1804.2,894.3C1802.6,893.2 1802.5,876.7 1801.4,873.8C1800.4,870.9 1797.4,867.6 1795.2,869.1C1793.0,870.6 1784.9,886.3 1782.6,887.0C1780.3,887.7 1776.1,878.5 1775.1,875.2C1774.1,871.9 1778.9,864.1 1774.2,858.4C1769.5,852.7 1739.7,834.1 1735.0,826.2C1730.3,818.3 1733.2,800.0 1733.9,790.4Z" fill="#e3e3e3"/>
<path d="M957.6,1472.9C958.6,1471.0 963.0,1466.9 965.9,1465.9C968.8,1464.9 980.3,1463.6 982.4,1464.7C984.5,1465.8 984.6,1473.0 983.5,1475.3C982.4,1477.6 975.5,1483.2 972.9,1484.7C970.3,1486.2 963.0,1488.5 961.2,1488.2C959.4,1487.9 958.0,1484.2 957.6,1482.4C957.2,1480.6 956.6,1474.8 957.6,1472.9Z" fill="#e3e3e3"/>
<path d="M1919.9,2287.4C1927.6,2284.3 1963.8,2279.1 1981.1,2276.5C1998.4,2273.9 2056.8,2267.0 2068.5,2264.7C2080.2,2262.4 2078.3,2260.0 2081.6,2256.8C2084.9,2253.6 2091.3,2240.3 2096.9,2237.1C2102.5,2233.9 2122.8,2230.6 2129.7,2229.7C2136.6,2228.8 2149.8,2228.7 2155.9,2229.7C2162.0,2230.7 2174.5,2236.5 2182.1,2238.5C2189.7,2240.5 2216.0,2245.1 2221.4,2247.2C2226.8,2249.3 2227.0,2252.1 2228.0,2256.8C2229.0,2261.5 2230.7,2281.8 2230.2,2287.4C2229.7,2293.0 2226.3,2300.8 2223.6,2304.9C2220.9,2309.0 2206.6,2319.3 2207.4,2322.4C2208.2,2325.5 2228.8,2328.6 2230.2,2331.1C2231.6,2333.6 2226.3,2342.4 2219.2,2344.2C2212.1,2346.0 2176.9,2344.6 2169.0,2346.4C2161.1,2348.2 2155.3,2357.5 2151.5,2359.5C2147.7,2361.5 2139.3,2362.1 2136.2,2363.9C2133.1,2365.7 2127.6,2371.5 2125.3,2374.8C2123.0,2378.1 2119.7,2389.5 2116.6,2392.3C2113.5,2395.1 2103.2,2396.9 2099.1,2398.8C2095.0,2400.7 2091.0,2407.5 2081.6,2408.9C2072.2,2410.3 2027.4,2409.0 2018.2,2410.6C2009.0,2412.2 2006.2,2420.7 2002.9,2422.9C1999.6,2425.1 1998.0,2428.4 1989.8,2429.4C1981.6,2430.4 1939.2,2433.1 1933.0,2431.6C1926.8,2430.1 1938.3,2422.4 1936.5,2416.3C1934.7,2410.2 1923.5,2386.5 1917.7,2379.2C1911.9,2371.9 1890.3,2359.2 1887.1,2353.8C1883.9,2348.4 1888.2,2337.0 1890.2,2333.3C1892.2,2329.6 1902.7,2325.5 1904.6,2322.4C1906.5,2319.3 1905.5,2309.4 1906.8,2307.1C1908.1,2304.8 1914.0,2305.0 1915.5,2302.7C1917.0,2300.4 1912.2,2290.5 1919.9,2287.4Z" fill="#e3e3e3"/>
<path d="M1719.2,2415.1C1718.2,2418.2 1723.1,2421.6 1722.2,2425.2C1721.3,2428.8 1712.5,2442.0 1711.7,2445.9C1710.9,2449.8 1715.5,2455.3 1715.4,2459.0C1715.3,2462.7 1711.0,2474.5 1710.9,2477.8C1710.8,2481.1 1715.3,2483.2 1714.7,2487.1C1714.1,2491.0 1706.0,2506.9 1706.1,2511.5C1706.2,2516.1 1715.2,2523.3 1715.4,2526.6C1715.6,2529.9 1705.7,2535.8 1707.9,2539.7C1710.1,2543.6 1728.9,2555.3 1734.2,2560.3C1739.5,2565.3 1748.6,2576.3 1753.0,2582.9C1757.4,2589.5 1769.3,2617.5 1771.7,2616.6C1774.1,2615.7 1771.8,2582.4 1773.6,2575.4C1775.4,2568.4 1782.6,2561.0 1786.8,2556.6C1791.0,2552.2 1806.2,2542.6 1809.3,2537.8C1812.4,2533.0 1811.5,2520.8 1813.0,2515.3C1814.5,2509.8 1823.7,2494.8 1822.4,2490.9C1821.1,2487.0 1806.0,2485.4 1801.8,2481.5C1797.6,2477.6 1787.3,2461.7 1786.0,2457.1C1784.7,2452.5 1791.1,2444.7 1790.5,2442.1C1789.9,2439.5 1782.6,2437.0 1781.1,2434.6C1779.6,2432.2 1777.6,2425.0 1777.4,2421.5C1777.2,2418.0 1777.1,2407.9 1779.2,2404.6C1781.3,2401.3 1793.5,2395.7 1795.0,2393.3C1796.5,2390.9 1794.2,2385.2 1792.4,2383.9C1790.6,2382.6 1781.6,2383.1 1779.2,2382.0C1776.8,2380.9 1777.0,2375.4 1771.7,2374.5C1766.5,2373.6 1739.7,2373.4 1734.2,2374.5C1728.7,2375.6 1725.2,2381.1 1724.8,2383.9C1724.4,2386.7 1731.1,2395.3 1730.4,2398.9C1729.7,2402.5 1720.2,2412.0 1719.2,2415.1Z" fill="#e3e3e3"/>
<path d="M975.3,2034.6C971.7,2032.8 966.1,2020.4 964.7,2017.6C963.3,2014.8 963.5,2012.5 963.5,2010.6C963.5,2008.7 965.2,2003.5 964.7,2001.2C964.2,1998.9 960.4,1992.2 958.8,1990.6C957.2,1989.0 952.4,1987.4 950.6,1987.1C948.8,1986.8 946.8,1986.3 943.5,1988.2C940.2,1990.1 925.4,2001.4 922.4,2003.1C919.4,2004.8 918.6,2003.3 917.6,2002.4C916.6,2001.5 913.8,1997.6 914.1,1995.3C914.4,1993.0 917.4,1986.1 920.0,1982.4C922.6,1978.7 933.5,1968.4 936.5,1963.5C939.5,1958.6 943.0,1943.0 945.9,1940.0C948.8,1937.0 958.7,1939.2 961.2,1937.6C963.7,1936.0 964.8,1927.8 967.1,1925.9C969.4,1924.0 979.3,1924.6 981.2,1921.6C983.1,1918.6 982.3,1902.3 983.5,1900.0C984.7,1897.7 989.0,1901.2 991.8,1901.9C994.6,1902.6 1003.4,1906.0 1007.1,1905.9C1010.8,1905.8 1016.9,1901.5 1023.5,1901.2C1030.1,1900.9 1058.3,1903.6 1063.5,1903.5C1068.7,1903.4 1067.1,1902.1 1068.2,1900.0C1069.3,1897.9 1070.7,1885.7 1073.2,1885.7C1075.7,1885.7 1084.5,1896.7 1089.4,1900.0C1094.3,1903.3 1110.5,1910.9 1115.3,1914.1C1120.1,1917.3 1130.1,1924.6 1130.6,1927.8C1131.1,1931.0 1120.3,1938.3 1120.0,1941.2C1119.7,1944.1 1124.8,1949.7 1128.2,1952.9C1131.6,1956.1 1144.9,1967.4 1149.4,1968.7C1153.9,1970.0 1164.0,1964.3 1167.1,1964.0C1170.2,1963.7 1175.7,1962.9 1176.0,1966.4C1176.3,1969.9 1170.7,1989.9 1169.4,1994.1C1168.1,1998.3 1166.6,2002.2 1164.7,2002.4C1162.8,2002.6 1154.7,1994.2 1152.9,1996.0C1151.1,1997.8 1150.6,2015.7 1149.4,2017.6C1148.2,2019.5 1145.3,2013.0 1142.4,2012.5C1139.5,2012.0 1127.9,2013.9 1124.7,2013.6C1121.5,2013.3 1116.8,2011.4 1115.3,2010.1C1113.8,2008.8 1113.0,2003.8 1111.8,2002.4C1110.6,2001.0 1107.5,1996.8 1105.4,1998.4C1103.3,2000.0 1095.1,2009.7 1093.6,2015.8C1092.1,2021.9 1093.6,2046.1 1092.5,2050.6C1091.4,2055.1 1086.0,2055.6 1084.0,2054.6C1082.0,2053.6 1076.6,2045.2 1075.3,2042.4C1074.0,2039.6 1075.2,2034.3 1072.9,2030.6C1070.6,2026.9 1057.4,2013.2 1055.3,2010.6C1053.2,2008.0 1056.7,2008.6 1054.6,2008.2C1052.5,2007.8 1040.0,2007.0 1037.6,2007.5C1035.2,2008.0 1034.9,2011.0 1034.1,2012.9C1033.3,2014.8 1031.7,2022.0 1030.6,2023.5C1029.5,2025.0 1026.6,2024.9 1024.7,2025.9C1022.8,2026.9 1016.8,2032.3 1014.1,2032.2C1011.4,2032.1 1003.4,2025.1 1001.2,2025.2C999.0,2025.3 998.3,2031.8 995.3,2032.9C992.3,2034.0 978.9,2036.4 975.3,2034.6Z" fill="#e3e3e3"/>
<path d="M1832.9,2725.9C1833.4,2724.6 1838.0,2719.2 1841.2,2716.9C1844.4,2714.6 1856.2,2707.7 1860.0,2705.9C1863.8,2704.1 1870.5,2701.2 1874.1,2701.2C1877.7,2701.2 1886.2,2705.1 1890.6,2705.9C1895.0,2706.7 1907.1,2706.7 1911.8,2708.2C1916.5,2709.7 1927.0,2716.9 1930.6,2718.8C1934.2,2720.7 1940.3,2724.3 1942.4,2724.7C1944.5,2725.1 1947.9,2722.0 1948.2,2722.4C1948.5,2722.8 1946.8,2727.7 1944.7,2728.2C1942.6,2728.7 1934.4,2728.6 1930.6,2727.1C1926.8,2725.6 1916.5,2717.1 1911.8,2715.3C1907.1,2713.5 1895.0,2712.6 1890.6,2711.8C1886.2,2711.0 1877.4,2708.2 1874.1,2708.2C1870.8,2708.2 1865.7,2710.6 1862.4,2711.8C1859.1,2713.0 1848.9,2716.9 1845.9,2718.8C1842.9,2720.7 1838.0,2727.4 1836.5,2728.2C1835.0,2729.0 1832.4,2727.2 1832.9,2725.9Z" fill="#fff"/>
<path d="M1066.8,765.2C1071.6,764.3 1100.9,760.4 1108.9,760.6C1116.9,760.8 1130.8,765.4 1135.1,767.0C1139.4,768.6 1148.2,774.3 1145.6,774.2C1143.0,774.1 1121.7,767.0 1112.6,766.3C1103.5,765.6 1072.9,768.3 1067.6,768.2C1062.3,768.1 1062.0,766.1 1066.8,765.2Z" fill="#fff"/>
<path d="M1156.5,1380.0C1158.4,1381.0 1169.5,1388.6 1172.9,1391.8C1176.3,1395.0 1183.3,1403.5 1185.9,1407.1C1188.5,1410.7 1194.5,1420.5 1195.3,1422.4C1196.1,1424.3 1194.3,1424.8 1192.9,1423.1C1191.5,1421.4 1186.0,1411.6 1183.5,1408.2C1181.0,1404.8 1175.0,1397.0 1171.8,1394.1C1168.6,1391.2 1158.3,1385.1 1156.5,1383.5C1154.7,1381.9 1154.6,1379.0 1156.5,1380.0Z" fill="#fff"/>
<path d="M429.7,2146.7C429.4,2149.1 425.6,2164.3 427.1,2167.3C428.6,2170.3 438.4,2168.8 442.9,2172.2C447.4,2175.6 461.0,2192.4 465.4,2196.2C469.8,2200.0 476.0,2202.0 480.4,2204.8C484.8,2207.6 497.9,2217.4 502.9,2219.9C507.9,2222.4 518.3,2226.6 523.6,2226.2C528.9,2225.8 544.4,2217.2 548.0,2216.1C551.6,2215.0 553.4,2216.2 554.4,2217.2C555.4,2218.2 552.8,2222.6 556.2,2224.4C559.6,2226.2 578.9,2230.7 583.6,2233.0C588.3,2235.3 594.0,2240.8 596.8,2244.3C599.6,2247.8 604.1,2259.1 608.0,2263.0C611.9,2266.9 625.1,2275.3 630.6,2278.0C636.1,2280.7 650.6,2286.0 655.0,2286.3C659.4,2286.6 663.7,2281.3 668.1,2280.6C672.5,2279.9 689.7,2280.6 692.5,2280.6 M2.0,2154.2C2.0,2154.2 74.9,2157.4 86.3,2158.7C97.7,2160.0 95.9,2163.5 99.4,2165.4C102.9,2167.3 114.8,2171.7 116.3,2174.8C117.8,2177.9 111.7,2188.0 112.6,2191.7C113.5,2195.4 122.9,2203.4 123.8,2206.7C124.7,2210.0 121.6,2217.5 120.1,2219.9C118.6,2222.3 114.6,2226.1 110.7,2227.4C106.8,2228.7 90.7,2229.3 86.3,2231.1C81.9,2232.8 75.6,2239.1 73.2,2242.4C70.8,2245.7 67.5,2254.9 65.7,2259.3C64.0,2263.7 59.1,2277.6 58.2,2279.9C57.3,2282.2 64.8,2275.2 58.2,2278.8C51.6,2282.4 2.0,2310.7 2.0,2310.7 M1319.0,979.1C1319.2,977.4 1320.1,966.3 1320.9,964.1C1321.7,961.9 1325.1,965.1 1325.8,960.3C1326.5,955.5 1325.9,928.9 1327.3,922.8C1328.7,916.7 1336.9,910.4 1337.8,907.8C1338.7,905.2 1334.4,902.3 1334.8,900.3C1335.2,898.3 1338.2,892.9 1341.6,890.9C1345.0,888.9 1361.1,887.1 1364.1,883.4C1367.1,879.7 1367.5,866.4 1367.1,859.0C1366.7,851.6 1360.7,826.2 1360.3,819.6C1359.9,813.0 1360.7,807.5 1363.3,802.7C1365.9,797.9 1380.5,782.2 1382.9,778.3C1385.3,774.4 1384.9,771.7 1383.6,768.9C1382.3,766.1 1374.2,756.3 1371.6,753.9C1369.0,751.5 1362.6,749.4 1361.1,748.3C1359.6,747.2 1358.1,749.1 1358.5,744.5C1358.9,739.9 1364.4,721.4 1364.8,708.9C1365.2,696.4 1363.6,653.8 1362.2,637.5C1360.8,621.2 1352.8,569.0 1352.8,569.0 M2153.9,569.0C2153.9,569.0 2161.6,618.6 2162.6,628.9C2163.6,639.2 2163.9,652.7 2162.6,657.7C2161.3,662.7 2152.0,668.1 2151.1,672.1C2150.2,676.1 2157.5,689.1 2155.1,692.3C2152.7,695.5 2136.4,700.2 2130.9,699.2C2125.4,698.2 2113.9,682.8 2107.8,683.7C2101.7,684.6 2083.3,702.4 2078.9,706.8C2074.5,711.2 2070.8,716.5 2070.3,721.2C2069.8,725.9 2071.6,744.1 2074.3,747.1C2077.0,750.1 2089.2,745.4 2093.4,747.1C2097.6,748.8 2108.5,757.9 2110.7,761.6C2112.9,765.3 2113.3,776.1 2112.4,778.9C2111.5,781.7 2106.1,784.7 2103.4,785.6C2100.7,786.5 2091.6,786.0 2089.4,787.0C2087.2,788.0 2085.0,791.5 2084.3,794.0C2083.6,796.5 2085.5,804.4 2083.8,808.0C2082.1,811.6 2071.3,822.8 2069.7,824.8 M2024.9,875.2C2025.7,877.2 2030.9,888.4 2031.9,892.0C2033.0,895.6 2034.2,903.3 2033.9,906.1C2033.6,908.9 2030.8,913.6 2029.1,915.9C2027.4,918.2 2020.6,923.9 2019.3,925.7C2018.0,927.5 2017.6,929.5 2017.9,931.3C2018.2,933.1 2021.9,938.2 2022.1,941.1C2022.3,944.0 2020.1,952.4 2019.3,956.5C2018.5,960.6 2014.8,972.5 2015.1,976.1C2015.4,979.7 2019.2,983.5 2022.1,987.3C2025.0,991.1 2038.7,1004.7 2040.3,1008.3C2041.9,1011.9 2037.1,1015.8 2036.1,1018.1C2035.1,1020.4 2032.4,1026.8 2031.9,1027.9 M1881.5,1024.3C1884.2,1023.9 1900.2,1021.0 1904.5,1020.9C1908.8,1020.8 1914.3,1022.4 1918.5,1023.1C1922.7,1023.8 1935.8,1025.3 1940.9,1026.5C1946.0,1027.7 1958.1,1033.3 1961.9,1033.5C1965.7,1033.7 1968.0,1028.7 1973.1,1027.9C1978.2,1027.1 1998.4,1026.5 2005.3,1026.5C2012.2,1026.5 2028.8,1027.7 2031.9,1027.9 M2031.9,1027.9C2032.7,1033.0 2036.8,1063.6 2038.9,1071.3C2041.0,1079.0 2047.2,1087.5 2050.1,1093.7C2053.0,1099.9 2062.1,1119.8 2064.1,1124.5C2066.1,1129.2 2067.5,1132.0 2067.5,1134.3C2067.5,1136.6 2066.1,1141.0 2064.1,1144.1C2062.1,1147.2 2053.4,1156.6 2050.1,1161.0C2046.8,1165.4 2037.7,1179.5 2036.1,1182.0 M1747.1,1187.5C1749.2,1186.4 1760.5,1180.0 1765.2,1178.2C1769.9,1176.5 1771.5,1173.8 1787.7,1172.5C1803.9,1171.2 1890.0,1168.3 1904.0,1166.9C1918.0,1165.5 1905.6,1160.7 1907.8,1160.5C1910.0,1160.3 1919.3,1163.6 1922.8,1165.0C1926.3,1166.4 1931.9,1171.3 1937.8,1172.5C1943.7,1173.7 1962.1,1174.6 1973.5,1175.5C1984.9,1176.4 2028.2,1179.5 2035.4,1180.0 M1625.7,1357.7C1625.8,1360.5 1625.9,1377.9 1626.7,1381.9C1627.5,1385.9 1631.6,1389.4 1632.8,1392.0C1634.0,1394.6 1635.4,1401.6 1636.8,1404.1C1638.2,1406.6 1640.7,1412.0 1644.9,1413.2C1649.1,1414.4 1667.9,1412.8 1673.1,1414.2C1678.3,1415.6 1683.6,1423.8 1689.2,1425.3C1694.8,1426.8 1715.9,1426.4 1721.5,1427.3C1727.1,1428.2 1735.0,1432.1 1737.6,1433.4C1740.2,1434.7 1742.0,1437.8 1743.7,1438.4C1745.4,1439.0 1746.2,1440.5 1751.8,1438.4C1757.4,1436.3 1784.1,1424.1 1792.1,1420.3C1800.1,1416.5 1815.5,1409.5 1820.3,1406.1C1825.1,1402.7 1833.3,1394.2 1833.4,1391.0C1833.5,1387.8 1823.2,1382.1 1821.3,1378.9C1819.4,1375.7 1817.5,1367.9 1817.3,1363.8C1817.1,1359.7 1818.1,1350.0 1819.3,1343.6C1820.5,1337.2 1826.6,1314.7 1827.4,1309.3C1828.2,1303.9 1828.4,1299.9 1826.4,1297.2C1824.4,1294.5 1815.5,1289.4 1810.3,1286.1C1805.1,1282.8 1787.7,1273.4 1782.0,1269.0C1776.3,1264.6 1765.3,1253.7 1761.8,1248.8C1758.3,1243.9 1753.4,1230.6 1751.8,1226.6C1750.2,1222.6 1748.2,1215.9 1747.7,1214.5 M1819.3,1334.5C1821.3,1334.7 1832.4,1334.6 1836.5,1336.6C1840.6,1338.6 1850.4,1348.2 1854.6,1351.7C1858.8,1355.2 1869.5,1365.6 1872.8,1366.8C1876.1,1368.0 1879.7,1364.5 1882.9,1361.8C1886.1,1359.1 1896.7,1349.0 1900.0,1343.6C1903.3,1338.2 1905.3,1323.3 1911.5,1315.2C1917.7,1307.1 1946.9,1280.9 1952.8,1273.9C1958.7,1266.9 1959.6,1259.0 1962.2,1255.1C1964.8,1251.2 1973.1,1244.5 1975.4,1240.1C1977.7,1235.7 1981.2,1223.7 1982.1,1217.6C1983.0,1211.5 1983.9,1192.4 1982.9,1187.5C1981.9,1182.6 1974.6,1176.9 1973.5,1175.5 M2035.4,1180.0C2040.2,1181.1 2071.0,1187.2 2076.7,1189.4C2082.4,1191.6 2083.1,1194.0 2084.2,1198.8C2085.3,1203.6 2087.8,1222.8 2086.1,1230.7C2084.3,1238.6 2073.4,1259.6 2069.2,1266.4C2065.0,1273.2 2053.7,1284.1 2050.4,1288.9C2047.1,1293.7 2042.3,1300.6 2041.0,1307.6C2039.7,1314.6 2040.3,1340.1 2039.2,1348.9C2038.1,1357.7 2032.1,1375.7 2031.7,1382.7C2031.3,1389.7 2031.7,1402.9 2035.4,1409.0C2039.1,1415.1 2059.9,1427.0 2063.6,1435.3C2067.3,1443.6 2066.2,1469.4 2067.3,1480.3C2068.4,1491.2 2071.6,1519.9 2072.9,1529.1C2074.2,1538.3 2078.4,1553.0 2078.6,1559.1C2078.8,1565.2 2074.7,1576.4 2074.8,1581.7C2074.9,1587.0 2080.1,1599.0 2079.7,1604.2C2079.3,1609.5 2072.3,1623.5 2071.1,1626.7C2069.9,1629.9 2071.7,1629.7 2069.3,1631.3C2066.9,1632.9 2054.5,1635.9 2050.5,1640.7C2046.5,1645.5 2036.1,1666.7 2034.8,1672.6C2033.5,1678.5 2039.2,1687.7 2039.3,1691.4C2039.4,1695.1 2039.0,1702.5 2035.5,1704.5C2032.0,1706.5 2014.2,1705.9 2009.2,1708.3C2004.2,1710.7 1993.9,1720.8 1992.4,1725.2C1990.9,1729.6 1994.3,1742.3 1996.1,1745.8C1997.8,1749.3 2006.5,1752.1 2007.4,1755.2C2008.3,1758.3 2006.4,1769.7 2003.6,1772.1C2000.8,1774.5 1985.6,1771.6 1983.0,1775.8C1980.4,1780.0 1981.3,1804.0 1981.1,1807.7 M1600.5,1334.5C1599.1,1336.3 1590.4,1346.8 1588.4,1349.7C1586.4,1352.6 1584.3,1357.4 1583.4,1359.7C1582.5,1362.0 1582.3,1367.9 1580.3,1369.8C1578.3,1371.7 1568.3,1373.8 1566.2,1375.9C1564.1,1378.0 1563.0,1383.3 1562.2,1388.0C1561.4,1392.7 1560.4,1411.7 1559.2,1416.2C1558.0,1420.7 1554.3,1423.7 1552.1,1426.3C1549.9,1428.9 1542.2,1435.8 1540.0,1438.4C1537.8,1441.0 1537.8,1446.4 1533.0,1449.0C1528.2,1451.6 1504.7,1457.7 1499.2,1460.3C1493.7,1462.9 1488.9,1467.7 1486.1,1471.6C1483.3,1475.5 1476.3,1489.7 1474.8,1494.1C1473.3,1498.5 1472.7,1502.5 1472.9,1509.1C1473.1,1515.7 1475.6,1543.8 1476.7,1550.4C1477.8,1557.0 1478.4,1560.6 1482.3,1565.4C1486.2,1570.2 1504.1,1586.7 1510.5,1591.7C1516.9,1596.7 1532.0,1604.7 1536.8,1608.6C1541.6,1612.5 1547.4,1623.3 1551.8,1625.5C1556.2,1627.7 1569.5,1625.5 1574.3,1627.3C1579.1,1629.0 1592.4,1636.3 1593.1,1640.5C1593.8,1644.7 1581.0,1657.3 1579.9,1663.0C1578.8,1668.7 1584.6,1684.7 1583.7,1689.3C1582.8,1693.9 1573.5,1699.4 1572.4,1702.4C1571.3,1705.4 1573.4,1712.4 1574.1,1715.3C1574.8,1718.2 1575.0,1725.6 1578.8,1727.1C1582.6,1728.6 1602.4,1727.4 1607.1,1728.2C1611.8,1729.0 1614.7,1733.1 1618.8,1734.1C1622.9,1735.1 1639.1,1733.8 1642.4,1736.5C1645.7,1739.2 1644.1,1756.1 1647.1,1757.6C1650.1,1759.1 1663.8,1749.9 1668.2,1749.4C1672.6,1748.9 1681.8,1751.7 1684.7,1752.9C1687.6,1754.1 1691.5,1758.1 1692.9,1760.0C1694.3,1761.9 1694.8,1768.4 1696.9,1768.9C1699.0,1769.4 1707.2,1766.7 1710.6,1764.7C1714.0,1762.7 1722.9,1753.0 1725.9,1751.8C1728.9,1750.6 1733.1,1752.5 1736.5,1754.1C1739.9,1755.7 1751.7,1765.2 1755.3,1765.9C1758.9,1766.6 1765.2,1761.8 1767.1,1760.0C1769.0,1758.2 1768.2,1751.8 1771.8,1750.6C1775.4,1749.4 1792.0,1748.3 1797.6,1749.4C1803.2,1750.5 1814.8,1757.4 1820.0,1760.0C1825.2,1762.6 1837.2,1769.6 1842.2,1772.1C1847.2,1774.6 1855.0,1777.8 1862.9,1781.5C1870.8,1785.2 1900.2,1799.6 1909.8,1804.0C1919.4,1808.4 1939.5,1815.9 1945.4,1819.0C1951.3,1822.1 1958.4,1826.1 1960.4,1830.3C1962.4,1834.5 1962.1,1851.8 1962.3,1854.6 M1157.6,1342.1 L1213.9,1344.7 M975.3,2034.6C973.8,2035.9 964.0,2043.3 962.4,2045.9C960.8,2048.5 961.2,2054.0 961.9,2056.5C962.6,2059.0 966.8,2063.4 968.2,2067.1C969.6,2070.8 974.4,2084.3 974.1,2088.2C973.8,2092.1 969.5,2099.3 965.9,2100.7C962.3,2102.1 946.4,2099.5 943.5,2100.5C940.6,2101.5 940.8,2107.5 941.2,2109.4C941.6,2111.3 946.1,2114.6 947.1,2116.5C948.1,2118.4 948.5,2124.6 950.1,2125.9C951.7,2127.2 959.8,2126.3 961.2,2127.8C962.6,2129.3 962.9,2136.7 961.9,2138.8C960.9,2140.9 954.5,2143.3 952.9,2145.9C951.3,2148.5 947.3,2157.2 947.8,2161.2C948.3,2165.2 955.3,2177.0 957.6,2180.0C959.9,2183.0 964.2,2185.8 967.1,2187.1C970.0,2188.4 979.4,2191.0 982.4,2191.1C985.4,2191.2 991.5,2187.3 992.9,2188.2C994.3,2189.1 995.3,2196.9 994.1,2198.8C992.9,2200.7 984.0,2202.4 982.4,2204.7C980.8,2207.0 980.9,2217.2 980.7,2218.8 M1719.2,2415.1C1720.5,2413.2 1729.7,2402.5 1730.4,2398.9C1731.1,2395.3 1724.4,2386.7 1724.8,2383.9C1725.2,2381.1 1728.7,2375.6 1734.2,2374.5C1739.7,2373.4 1766.5,2373.6 1771.7,2374.5C1777.0,2375.4 1776.8,2380.9 1779.2,2382.0C1781.6,2383.1 1790.6,2382.6 1792.4,2383.9C1794.2,2385.2 1796.5,2390.9 1795.0,2393.3C1793.5,2395.7 1781.3,2401.3 1779.2,2404.6C1777.1,2407.9 1777.2,2418.0 1777.4,2421.5C1777.6,2425.0 1779.6,2432.2 1781.1,2434.6C1782.6,2437.0 1789.9,2439.5 1790.5,2442.1C1791.1,2444.7 1784.7,2452.5 1786.0,2457.1C1787.3,2461.7 1797.6,2477.6 1801.8,2481.5C1806.0,2485.4 1821.1,2487.0 1822.4,2490.9C1823.7,2494.8 1814.5,2509.8 1813.0,2515.3C1811.5,2520.8 1812.4,2533.0 1809.3,2537.8C1806.2,2542.6 1791.0,2552.2 1786.8,2556.6C1782.6,2561.0 1775.4,2568.4 1773.6,2575.4C1771.8,2582.4 1771.9,2611.8 1771.7,2616.6 M1822.4,2490.9C1823.9,2490.5 1831.8,2487.3 1835.5,2487.1C1839.2,2486.9 1848.2,2490.3 1854.3,2489.0C1860.4,2487.7 1880.4,2479.4 1888.1,2475.9C1895.8,2472.4 1916.3,2461.0 1920.0,2459.0 M1933.0,2431.6C1932.2,2434.4 1931.1,2450.5 1926.5,2455.6C1921.9,2460.7 1902.6,2471.4 1893.7,2475.3C1884.8,2479.2 1855.1,2487.7 1850.0,2489.3 M1919.9,2287.4C1927.0,2286.1 1963.8,2279.1 1981.1,2276.5C1998.4,2273.9 2056.8,2267.0 2068.5,2264.7C2080.2,2262.4 2078.3,2260.0 2081.6,2256.8C2084.9,2253.6 2091.3,2240.3 2096.9,2237.1C2102.5,2233.9 2122.8,2230.6 2129.7,2229.7C2136.6,2228.8 2149.8,2228.7 2155.9,2229.7C2162.0,2230.7 2174.5,2236.5 2182.1,2238.5C2189.7,2240.5 2216.0,2245.1 2221.4,2247.2C2226.8,2249.3 2227.0,2252.1 2228.0,2256.8C2229.0,2261.5 2230.7,2281.8 2230.2,2287.4C2229.7,2293.0 2226.3,2300.8 2223.6,2304.9C2220.9,2309.0 2206.6,2319.3 2207.4,2322.4C2208.2,2325.5 2228.8,2328.6 2230.2,2331.1C2231.6,2333.6 2226.3,2342.4 2219.2,2344.2C2212.1,2346.0 2176.9,2344.6 2169.0,2346.4C2161.1,2348.2 2155.3,2357.5 2151.5,2359.5C2147.7,2361.5 2139.3,2362.1 2136.2,2363.9C2133.1,2365.7 2127.6,2371.5 2125.3,2374.8C2123.0,2378.1 2119.7,2389.5 2116.6,2392.3C2113.5,2395.1 2103.2,2396.9 2099.1,2398.8C2095.0,2400.7 2091.0,2407.5 2081.6,2408.9C2072.2,2410.3 2027.4,2409.0 2018.2,2410.6C2009.0,2412.2 2006.2,2420.7 2002.9,2422.9C1999.6,2425.1 1998.0,2428.4 1989.8,2429.4C1981.6,2430.4 1939.2,2433.1 1933.0,2431.6C1926.8,2430.1 1938.3,2422.4 1936.5,2416.3C1934.7,2410.2 1923.5,2386.5 1917.7,2379.2C1911.9,2371.9 1890.3,2359.2 1887.1,2353.8C1883.9,2348.4 1888.2,2337.0 1890.2,2333.3C1892.2,2329.6 1902.7,2325.5 1904.6,2322.4C1906.5,2319.3 1905.5,2309.4 1906.8,2307.1C1908.1,2304.8 1914.0,2305.0 1915.5,2302.7C1917.0,2300.4 1919.4,2289.2 1919.9,2287.4 M975.3,2034.6C974.1,2032.6 966.1,2020.4 964.7,2017.6C963.3,2014.8 963.5,2012.5 963.5,2010.6C963.5,2008.7 965.2,2003.5 964.7,2001.2C964.2,1998.9 960.4,1992.2 958.8,1990.6C957.2,1989.0 952.4,1987.4 950.6,1987.1C948.8,1986.8 946.8,1986.3 943.5,1988.2C940.2,1990.1 925.4,2001.4 922.4,2003.1C919.4,2004.8 918.6,2003.3 917.6,2002.4C916.6,2001.5 913.8,1997.6 914.1,1995.3C914.4,1993.0 917.4,1986.1 920.0,1982.4C922.6,1978.7 933.5,1968.4 936.5,1963.5C939.5,1958.6 943.0,1943.0 945.9,1940.0C948.8,1937.0 958.7,1939.2 961.2,1937.6C963.7,1936.0 964.8,1927.8 967.1,1925.9C969.4,1924.0 979.3,1924.6 981.2,1921.6C983.1,1918.6 982.3,1902.3 983.5,1900.0C984.7,1897.7 989.0,1901.2 991.8,1901.9C994.6,1902.6 1003.4,1906.0 1007.1,1905.9C1010.8,1905.8 1016.9,1901.5 1023.5,1901.2C1030.1,1900.9 1058.3,1903.6 1063.5,1903.5C1068.7,1903.4 1067.1,1902.1 1068.2,1900.0C1069.3,1897.9 1070.7,1885.7 1073.2,1885.7C1075.7,1885.7 1084.5,1896.7 1089.4,1900.0C1094.3,1903.3 1110.5,1910.9 1115.3,1914.1C1120.1,1917.3 1130.1,1924.6 1130.6,1927.8C1131.1,1931.0 1120.3,1938.3 1120.0,1941.2C1119.7,1944.1 1124.8,1949.7 1128.2,1952.9C1131.6,1956.1 1144.9,1967.4 1149.4,1968.7C1153.9,1970.0 1164.0,1964.3 1167.1,1964.0C1170.2,1963.7 1175.7,1962.9 1176.0,1966.4C1176.3,1969.9 1170.7,1989.9 1169.4,1994.1C1168.1,1998.3 1166.6,2002.2 1164.7,2002.4C1162.8,2002.6 1154.7,1994.2 1152.9,1996.0C1151.1,1997.8 1150.6,2015.7 1149.4,2017.6C1148.2,2019.5 1145.3,2013.0 1142.4,2012.5C1139.5,2012.0 1127.9,2013.9 1124.7,2013.6C1121.5,2013.3 1116.8,2011.4 1115.3,2010.1C1113.8,2008.8 1113.0,2003.8 1111.8,2002.4C1110.6,2001.0 1107.5,1996.8 1105.4,1998.4C1103.3,2000.0 1095.1,2009.7 1093.6,2015.8C1092.1,2021.9 1093.6,2046.1 1092.5,2050.6C1091.4,2055.1 1086.0,2055.6 1084.0,2054.6C1082.0,2053.6 1076.6,2045.2 1075.3,2042.4C1074.0,2039.6 1075.2,2034.3 1072.9,2030.6C1070.6,2026.9 1057.4,2013.2 1055.3,2010.6C1053.2,2008.0 1056.7,2008.6 1054.6,2008.2C1052.5,2007.8 1040.0,2007.0 1037.6,2007.5C1035.2,2008.0 1034.9,2011.0 1034.1,2012.9C1033.3,2014.8 1031.7,2022.0 1030.6,2023.5C1029.5,2025.0 1026.6,2024.9 1024.7,2025.9C1022.8,2026.9 1016.8,2032.3 1014.1,2032.2C1011.4,2032.1 1003.4,2025.1 1001.2,2025.2C999.0,2025.3 998.3,2031.8 995.3,2032.9C992.3,2034.0 977.6,2034.4 975.3,2034.6 M1130.6,1927.8C1129.9,1927.1 1121.3,1922.4 1124.7,1921.6C1128.1,1920.8 1154.6,1919.7 1160.0,1920.7C1165.4,1921.8 1167.0,1930.2 1170.6,1930.6C1174.2,1931.0 1187.2,1924.9 1190.6,1924.2C1194.0,1923.5 1195.9,1923.5 1200.0,1924.7C1204.1,1925.9 1221.5,1934.1 1225.9,1934.8C1230.3,1935.5 1234.7,1932.9 1237.6,1930.6C1240.5,1928.3 1247.0,1917.4 1250.6,1915.3C1254.2,1913.2 1262.4,1911.5 1268.2,1912.9C1274.0,1914.3 1295.8,1925.2 1300.0,1927.1C1304.2,1929.0 1301.6,1930.2 1304.0,1929.6C1306.4,1929.0 1319.8,1925.4 1320.9,1922.1C1322.0,1918.8 1312.7,1907.0 1313.4,1901.5C1314.1,1896.0 1323.1,1880.5 1326.6,1875.2C1330.1,1869.9 1340.3,1860.1 1343.4,1856.4C1346.5,1852.7 1351.7,1844.8 1352.8,1843.3 M1176.0,1966.4C1178.0,1966.5 1188.5,1966.2 1192.9,1967.1C1197.3,1968.0 1208.1,1972.6 1214.1,1974.1C1220.1,1975.6 1239.2,1978.5 1244.7,1980.0C1250.2,1981.5 1257.4,1985.2 1261.2,1987.1C1265.0,1989.0 1274.3,1994.7 1277.6,1996.0C1280.9,1997.3 1286.8,1998.2 1289.4,1998.4C1292.0,1998.6 1296.1,1997.5 1300.0,1997.6C1303.9,1997.7 1318.8,1998.0 1322.8,1999.0C1326.8,2000.0 1331.5,2004.2 1334.1,2006.6C1336.7,2009.0 1342.2,2017.1 1345.3,2019.7C1348.4,2022.3 1355.0,2030.2 1360.3,2029.1C1365.6,2028.0 1386.0,2012.3 1390.4,2010.3C1394.8,2008.3 1396.8,2010.9 1397.9,2012.2C1399.0,2013.5 1398.0,2020.6 1399.7,2021.6C1401.5,2022.6 1409.2,2022.3 1412.9,2020.8C1416.6,2019.3 1425.1,2010.5 1431.7,2008.4C1438.3,2006.3 1463.1,2004.1 1469.2,2002.8C1475.3,2001.5 1480.3,1998.1 1484.2,1997.2C1488.1,1996.3 1500.8,1995.5 1503.0,1995.3 M1352.8,1843.3C1352.9,1840.5 1355.1,1823.5 1353.6,1818.9C1352.1,1814.3 1343.3,1807.4 1339.7,1803.9C1336.1,1800.4 1326.5,1793.9 1322.8,1788.9C1319.1,1783.9 1311.5,1766.2 1307.8,1760.7C1304.1,1755.2 1293.1,1746.1 1290.9,1741.9C1288.7,1737.7 1290.4,1728.5 1289.0,1725.0C1287.6,1721.5 1279.6,1715.4 1278.5,1711.9C1277.4,1708.4 1276.2,1697.6 1279.6,1695.0C1283.0,1692.4 1301.4,1691.2 1307.8,1689.4C1314.2,1687.7 1329.3,1683.1 1334.1,1680.0C1338.9,1676.9 1343.8,1665.9 1349.1,1663.0C1354.3,1660.1 1371.7,1657.2 1379.1,1655.5C1386.5,1653.8 1406.3,1649.8 1412.9,1648.0C1419.5,1646.2 1430.4,1640.9 1435.4,1640.5C1440.4,1640.1 1450.9,1640.9 1456.1,1644.2C1461.3,1647.5 1475.5,1666.2 1480.0,1668.9C1484.5,1671.6 1491.9,1666.6 1495.0,1667.0C1498.1,1667.4 1505.0,1671.1 1506.3,1672.6C1507.6,1674.1 1506.4,1677.9 1505.9,1680.0C1505.4,1682.1 1501.9,1688.5 1501.6,1690.6C1501.3,1692.7 1501.6,1695.6 1503.5,1697.6C1505.4,1699.6 1515.3,1707.2 1517.6,1707.8C1519.9,1708.4 1522.8,1704.3 1523.5,1702.4C1524.2,1700.5 1523.0,1693.6 1523.5,1691.8C1524.0,1690.0 1525.0,1687.0 1528.2,1687.1C1531.4,1687.2 1545.4,1691.1 1550.6,1692.9C1555.8,1694.7 1570.3,1701.3 1572.9,1702.4 M1352.8,1843.3C1355.4,1843.7 1367.1,1846.8 1375.4,1847.0C1383.7,1847.2 1415.1,1848.0 1424.1,1845.2C1433.1,1842.4 1447.2,1824.6 1452.3,1822.6C1457.4,1820.6 1465.1,1826.2 1468.2,1828.2C1471.3,1830.2 1475.2,1838.6 1478.8,1840.0C1482.4,1841.4 1494.5,1840.3 1498.8,1840.0C1503.1,1839.7 1512.3,1838.3 1515.3,1837.6C1518.3,1836.9 1522.1,1833.7 1524.7,1834.1C1527.3,1834.5 1536.1,1840.4 1537.6,1841.2 M1537.6,1841.2C1539.1,1839.4 1547.7,1827.3 1550.6,1825.9C1553.5,1824.5 1559.1,1830.5 1562.4,1829.4C1565.7,1828.3 1576.1,1819.7 1578.8,1816.5C1581.5,1813.3 1584.8,1806.0 1585.9,1802.4C1587.0,1798.8 1586.3,1790.0 1588.2,1785.9C1590.1,1781.8 1599.4,1770.7 1602.4,1767.1C1605.4,1763.5 1612.0,1757.9 1614.1,1755.3C1616.2,1752.7 1619.5,1747.2 1620.0,1744.7C1620.5,1742.2 1618.9,1735.3 1618.8,1734.1 M1537.6,1841.2C1538.0,1846.0 1539.7,1876.2 1541.2,1882.4C1542.7,1888.6 1548.3,1891.6 1550.6,1894.1C1552.9,1896.6 1560.0,1902.4 1561.2,1903.5 M1561.2,1903.5C1560.2,1905.1 1556.1,1914.8 1552.9,1917.6C1549.7,1920.4 1537.0,1924.6 1534.1,1927.1C1531.2,1929.6 1529.3,1935.0 1528.2,1938.8C1527.1,1942.6 1524.6,1960.9 1524.7,1960.0C1524.8,1959.1 1529.3,1931.5 1529.2,1931.5C1529.1,1931.5 1525.3,1953.9 1523.6,1959.6C1521.8,1965.3 1516.6,1976.1 1514.2,1980.3C1511.8,1984.5 1504.3,1993.5 1503.0,1995.3 M1360.3,2029.1C1363.8,2032.2 1385.4,2051.0 1390.4,2055.4C1395.4,2059.8 1401.7,2062.2 1403.5,2066.6C1405.3,2071.0 1406.3,2086.3 1406.1,2092.9C1405.9,2099.5 1402.1,2119.4 1401.6,2122.9 M1561.2,1903.5C1562.7,1904.5 1570.7,1909.9 1574.1,1911.8C1577.5,1913.7 1587.4,1919.8 1590.6,1920.0C1593.8,1920.2 1596.9,1914.2 1601.2,1913.4C1605.5,1912.6 1623.8,1916.7 1627.1,1912.9C1630.4,1909.1 1628.4,1885.2 1629.4,1881.2C1630.4,1877.2 1631.9,1880.0 1635.3,1878.8C1638.7,1877.6 1649.7,1872.1 1658.8,1870.6C1667.9,1869.1 1704.1,1868.1 1712.9,1865.9C1721.7,1863.7 1729.7,1855.0 1734.1,1851.8C1738.5,1848.6 1745.7,1840.5 1750.6,1838.8C1755.5,1837.1 1772.1,1837.2 1776.5,1837.6C1780.9,1838.0 1783.1,1842.0 1788.2,1842.4C1793.3,1842.8 1815.2,1841.5 1820.0,1841.2C1824.8,1840.9 1828.5,1841.6 1829.1,1839.4C1829.7,1837.2 1824.6,1826.2 1825.3,1822.5C1826.0,1818.8 1832.5,1810.1 1834.7,1807.5C1836.9,1804.9 1843.2,1804.1 1844.1,1800.0C1845.0,1795.9 1842.4,1775.4 1842.2,1772.1 M1504.4,1995.2C1505.1,1997.8 1506.3,2013.8 1510.0,2017.7C1513.7,2021.6 1530.4,2025.5 1536.3,2029.0C1542.2,2032.5 1556.3,2043.8 1560.7,2047.7C1565.1,2051.6 1566.6,2060.1 1573.8,2062.7C1581.0,2065.3 1612.1,2071.8 1622.6,2070.3C1633.1,2068.8 1654.7,2053.8 1663.9,2049.6C1673.1,2045.4 1692.7,2036.0 1701.5,2034.6C1710.3,2033.2 1731.6,2033.9 1739.0,2037.2C1746.4,2040.5 1761.1,2057.1 1765.3,2062.7C1769.5,2068.3 1770.7,2082.5 1774.6,2085.3C1778.5,2088.1 1795.8,2084.3 1799.0,2087.1C1802.2,2089.9 1799.7,2106.2 1802.1,2109.7C1804.5,2113.2 1816.5,2112.2 1819.7,2117.2C1822.9,2122.2 1825.4,2147.6 1829.1,2152.8C1832.8,2158.1 1848.1,2159.1 1851.6,2162.2C1855.1,2165.3 1856.7,2177.6 1859.1,2179.1C1861.5,2180.6 1869.1,2173.4 1872.2,2175.4C1875.3,2177.4 1885.2,2191.6 1885.4,2196.0C1885.6,2200.4 1873.4,2209.4 1874.1,2212.9C1874.8,2216.4 1888.8,2222.9 1891.0,2226.0C1893.2,2229.1 1891.5,2237.0 1892.9,2239.2C1894.3,2241.4 1902.3,2241.7 1903.4,2244.8C1904.5,2247.9 1900.2,2260.4 1902.3,2265.4C1904.4,2270.4 1918.8,2285.4 1921.0,2288.0 M1739.0,2037.2C1742.9,2035.1 1765.4,2023.4 1772.8,2019.6C1780.2,2015.8 1797.3,2009.6 1802.8,2004.6C1808.3,1999.6 1816.2,1984.5 1819.7,1976.4C1823.2,1968.3 1830.0,1943.4 1832.8,1935.1C1835.6,1926.8 1840.4,1911.7 1844.1,1905.1C1847.8,1898.5 1862.5,1883.2 1864.7,1878.8C1866.9,1874.4 1854.8,1868.9 1862.9,1867.6C1871.0,1866.3 1922.6,1869.1 1934.2,1867.6C1945.8,1866.1 1956.6,1857.0 1962.3,1854.4C1968.0,1851.8 1977.5,1849.6 1983.0,1845.0C1988.5,1840.4 2006.1,1818.5 2009.2,1815.0 M1981.1,1807.7C1984.4,1808.4 2003.7,1812.1 2009.2,1813.4C2014.7,1814.7 2024.9,1816.2 2028.0,1819.0C2031.1,1821.8 2034.0,1833.6 2035.5,1837.8C2037.0,1842.0 2039.1,1852.4 2041.1,1854.6C2043.1,1856.8 2050.1,1857.2 2052.4,1856.5C2054.7,1855.8 2061.0,1851.8 2061.0,1849.0C2061.0,1846.2 2051.4,1835.6 2052.4,1832.1C2053.4,1828.6 2062.5,1823.4 2069.3,1819.0C2076.1,1814.6 2104.0,1798.1 2110.6,1794.6C2117.2,1791.1 2121.7,1789.0 2125.6,1789.0C2129.5,1789.0 2141.6,1793.3 2144.4,1794.6C2147.2,1795.9 2146.2,1798.1 2150.0,1800.2C2153.8,1802.3 2170.5,1809.4 2177.0,1812.5C2183.5,1815.6 2200.2,1820.5 2205.9,1826.9C2211.6,1833.3 2220.0,1858.2 2226.1,1867.3C2232.2,1876.4 2250.7,1898.1 2257.8,1904.8C2264.9,1911.5 2279.3,1919.9 2286.7,1925.0C2294.1,1930.1 2314.6,1944.7 2321.3,1948.1C2328.0,1951.5 2341.7,1953.2 2344.4,1953.9 M1051.8,1412.2C1052.2,1413.5 1054.1,1421.4 1055.3,1423.5C1056.5,1425.6 1062.3,1427.8 1062.4,1430.6C1062.5,1433.4 1057.3,1443.3 1056.5,1447.1C1055.7,1450.9 1056.3,1460.9 1055.3,1463.5C1054.3,1466.1 1049.2,1467.9 1048.2,1469.4C1047.2,1470.9 1048.6,1475.1 1046.4,1476.5C1044.2,1477.9 1031.5,1479.1 1029.4,1481.2C1027.3,1483.3 1027.9,1491.8 1028.2,1494.1C1028.5,1496.4 1030.1,1500.1 1031.8,1501.2C1033.5,1502.3 1041.3,1502.4 1042.4,1503.5C1043.5,1504.6 1042.4,1508.4 1041.2,1510.6C1040.0,1512.8 1033.7,1519.5 1031.8,1522.4C1029.9,1525.3 1026.9,1533.1 1024.7,1535.3C1022.5,1537.5 1016.5,1540.7 1012.9,1541.2C1009.3,1541.7 997.2,1539.7 994.1,1540.0C991.0,1540.3 986.7,1540.6 985.9,1543.5C985.1,1546.4 986.7,1561.4 987.5,1564.7C988.3,1568.0 992.0,1570.0 992.9,1571.8C993.8,1573.6 996.3,1578.4 995.3,1580.0C994.3,1581.6 985.8,1583.7 984.7,1585.9C983.6,1588.1 987.0,1596.5 985.9,1598.8C984.8,1601.1 976.7,1604.3 975.3,1605.9C973.9,1607.5 973.7,1611.4 974.1,1612.9C974.5,1614.4 978.4,1617.1 978.8,1618.8C979.2,1620.5 977.4,1626.1 977.2,1627.1 M977.2,1627.1C975.3,1626.8 963.4,1626.2 961.2,1624.7C959.0,1623.2 958.5,1616.2 958.4,1614.1C958.3,1612.0 959.3,1608.9 960.0,1607.1C960.7,1605.3 963.9,1600.7 964.0,1598.8C964.1,1596.9 962.6,1592.4 961.2,1590.6C959.8,1588.8 954.1,1585.0 951.8,1583.5C949.5,1582.0 943.1,1579.5 941.2,1577.6C939.3,1575.7 936.8,1569.0 935.3,1567.1C933.8,1565.2 930.7,1561.9 928.2,1561.2C925.7,1560.5 917.4,1560.7 914.1,1561.2C910.8,1561.7 905.8,1564.1 900.0,1565.6C894.2,1567.1 869.6,1573.9 864.7,1574.1C859.8,1574.3 859.2,1570.0 857.6,1567.1C856.0,1564.2 852.0,1551.0 851.3,1548.9 M977.2,1627.1C977.3,1628.1 977.2,1633.5 978.1,1635.3C979.0,1637.1 984.5,1639.4 984.7,1642.4C984.9,1645.4 982.2,1657.1 980.0,1661.2C977.8,1665.3 967.5,1675.7 965.9,1677.6 M965.9,1677.6C964.7,1679.3 957.4,1689.0 955.3,1691.8C953.2,1694.6 948.9,1699.0 948.2,1701.2C947.5,1703.4 948.6,1708.8 949.4,1710.6C950.2,1712.4 955.4,1714.3 955.3,1716.5C955.2,1718.7 947.5,1727.2 948.2,1729.4C948.9,1731.6 957.5,1734.1 961.2,1735.3C964.9,1736.5 977.4,1741.0 980.0,1740.0C982.6,1739.0 982.6,1729.7 983.5,1727.1C984.4,1724.5 988.3,1720.4 987.5,1717.6C986.7,1714.8 978.2,1706.8 976.5,1703.5C974.8,1700.2 974.1,1692.4 972.9,1689.4C971.7,1686.4 966.7,1679.0 965.9,1677.6 M795.8,1579.2C796.2,1581.2 797.6,1592.9 799.2,1596.0C800.8,1599.1 806.9,1605.7 809.2,1606.1C811.5,1606.5 817.1,1597.0 819.3,1599.3C821.5,1601.6 824.8,1622.9 827.7,1626.2C830.6,1629.5 841.9,1626.7 844.5,1627.9C847.1,1629.1 848.9,1634.6 849.6,1636.3C850.3,1638.0 848.4,1640.5 850.6,1642.4C852.8,1644.3 866.0,1648.7 868.2,1652.9C870.4,1657.1 866.6,1675.8 869.4,1678.8C872.2,1681.8 888.5,1679.9 891.8,1678.8C895.1,1677.7 895.8,1670.8 897.6,1669.4C899.4,1668.0 905.8,1667.0 907.1,1667.1C908.4,1667.2 909.4,1669.4 908.9,1670.6C908.4,1671.8 903.3,1674.4 902.4,1677.6C901.5,1680.8 899.8,1694.6 901.2,1697.6C902.6,1700.6 910.7,1700.2 914.1,1703.5C917.5,1706.8 926.6,1722.9 930.6,1725.9C934.6,1728.9 946.1,1729.0 948.2,1729.4 M980.0,1740.0C980.5,1741.2 983.1,1747.7 984.7,1750.6C986.3,1753.5 992.3,1762.6 994.1,1764.7C995.9,1766.8 997.6,1767.6 1000.0,1768.2C1002.4,1768.8 1010.6,1768.3 1015.0,1770.1C1019.4,1771.8 1031.4,1780.4 1037.5,1783.2C1043.6,1786.0 1063.2,1792.3 1067.6,1794.5C1072.0,1796.7 1077.7,1797.6 1075.1,1802.0C1072.5,1806.4 1048.7,1826.5 1045.0,1832.0C1041.3,1837.5 1044.7,1845.2 1043.2,1848.9C1041.7,1852.6 1034.1,1859.7 1031.9,1863.9C1029.7,1868.1 1025.5,1880.2 1024.4,1884.6C1023.3,1889.0 1022.7,1899.5 1022.5,1901.5" fill="none" stroke="#fff" stroke-width="2.4" stroke-linejoin="round" stroke-linecap="round"/>
</g>
<circle cx="1215" cy="808.4" r="3.8" fill="rgb(232,84,45)" fill-opacity="0.5" stroke="rgb(232,84,45)" stroke-opacity="0.5" stroke-width="7.6"/>
<circle cx="1195" cy="1205.6" r="1.7" fill="rgb(232,84,45)" fill-opacity="0.5" stroke="rgb(232,84,45)" stroke-opacity="0.5" stroke-width="5"/>
<circle cx="977.5" cy="1416.3" r="42.8" fill="rgb(232,84,45)" fill-opacity="0.5" stroke="rgb(232,84,45)" stroke-opacity="0.5" stroke-width="8.4"/>
<circle cx="1254.5" cy="1530" r="50.4" fill="rgb(232,84,45)" fill-opacity="0.5" stroke="rgb(232,84,45)" stroke-opacity="0.5" stroke-width="8.4"/>
<circle cx="842.4" cy="1617.5" r="22.8" fill="rgb(232,84,45)" fill-opacity="0.5" stroke="rgb(232,84,45)" stroke-opacity="0.5" stroke-width="8.4"/>
<circle cx="969.6" cy="1713.2" r="5.8" fill="rgb(232,84,45)" fill-opacity="0.5" stroke="rgb(232,84,45)" stroke-opacity="0.5" stroke-width="8.4"/>
<circle cx="1449.2" cy="1702.5" r="37.8" fill="rgb(232,84,45)" fill-opacity="0.5" stroke="rgb(232,84,45)" stroke-opacity="0.5" stroke-width="8.4"/>
<circle cx="1948" cy="919.3" r="4.8" fill="rgb(232,84,45)" fill-opacity="0.5" stroke="rgb(232,84,45)" stroke-opacity="0.5" stroke-width="8.4"/>
<circle cx="1975.3" cy="1121" r="35.3" fill="rgb(232,84,45)" fill-opacity="0.5" stroke="rgb(232,84,45)" stroke-opacity="0.5" stroke-width="8.4"/>
<circle cx="1788.5" cy="1239.2" r="50.5" fill="rgb(232,84,45)" fill-opacity="0.5" stroke="rgb(232,84,45)" stroke-opacity="0.5" stroke-width="8.4"/>
<circle cx="1927.5" cy="1577.5" r="234.3" fill="rgb(232,84,45)" fill-opacity="0.5" stroke="rgb(232,84,45)" stroke-opacity="0.5" stroke-width="8.4"/>
<circle cx="2387.6" cy="1313.3" r="136.2" fill="rgb(232,84,45)" fill-opacity="0.5" stroke="rgb(232,84,45)" stroke-opacity="0.5" stroke-width="8.4"/>
<circle cx="1613.5" cy="1803.5" r="35.3" fill="rgb(232,84,45)" fill-opacity="0.5" stroke="rgb(232,84,45)" stroke-opacity="0.5" stroke-width="8.4"/>
<circle cx="1329.3" cy="1955.8" r="30.3" fill="rgb(232,84,45)" fill-opacity="0.5" stroke="rgb(232,84,45)" stroke-opacity="0.5" stroke-width="8.4"/>
<circle cx="1666.5" cy="2017.5" r="101.2" fill="rgb(232,84,45)" fill-opacity="0.5" stroke="rgb(232,84,45)" stroke-opacity="0.5" stroke-width="8.4"/>
<circle cx="1677.3" cy="2274.9" r="32.3" fill="rgb(232,84,45)" fill-opacity="0.5" stroke="rgb(232,84,45)" stroke-opacity="0.5" stroke-width="8.4"/>
<circle cx="1294.8" cy="2346.4" r="10.8" fill="rgb(232,84,45)" fill-opacity="0.5" stroke="rgb(232,84,45)" stroke-opacity="0.5" stroke-width="8.4"/>
<circle cx="1887.2" cy="2621.3" r="32.3" fill="rgb(232,84,45)" fill-opacity="0.5" stroke="rgb(232,84,45)" stroke-opacity="0.5" stroke-width="8.4"/>
<circle cx="2074.1" cy="2042.2" r="71.0" fill="rgb(232,84,45)" fill-opacity="0.5" stroke="rgb(232,84,45)" stroke-opacity="0.5" stroke-width="8.4"/>
<circle cx="708" cy="1971.6" r="38.2" fill="rgb(232,84,45)" fill-opacity="0.5" stroke="rgb(232,84,45)" stroke-opacity="0.5" stroke-width="8.4"/>
<text stroke="#000" stroke-width="0.82" stroke-linejoin="round" x="1169.9" y="783.6" font-size="51" font-weight="bold" textLength="92.3" lengthAdjust="spacingAndGlyphs" fill="#000">762</text>
<text stroke="#000" stroke-width="0.82" stroke-linejoin="round" x="1164.2" y="1185.5" font-size="51" font-weight="bold" textLength="61.6" lengthAdjust="spacingAndGlyphs" fill="#000">60</text>
<text stroke="#000" stroke-width="0.82" stroke-linejoin="round" x="912.0" y="1353.7" font-size="51" font-weight="bold" textLength="195.6" lengthAdjust="spacingAndGlyphs" fill="#000">100 000</text>
<text stroke="#000" stroke-width="0.82" stroke-linejoin="round" x="1155.2" y="1452.5" font-size="51" font-weight="bold" textLength="197.3" lengthAdjust="spacingAndGlyphs" fill="#000">134 500</text>
<text stroke="#000" stroke-width="0.82" stroke-linejoin="round" x="748.8" y="1569.1" font-size="51" font-weight="bold" textLength="166.2" lengthAdjust="spacingAndGlyphs" fill="#000">28 900</text>
<text stroke="#000" stroke-width="0.82" stroke-linejoin="round" x="917.0" y="1675.5" font-size="51" font-weight="bold" textLength="134.9" lengthAdjust="spacingAndGlyphs" fill="#000">1 950</text>
<text stroke="#000" stroke-width="0.82" stroke-linejoin="round" x="1371.7" y="1648.7" font-size="51" font-weight="bold" textLength="160.5" lengthAdjust="spacingAndGlyphs" fill="#000">78 150</text>
<text stroke="#000" stroke-width="0.82" stroke-linejoin="round" x="1888.8" y="897.0" font-size="51" font-weight="bold" textLength="136.0" lengthAdjust="spacingAndGlyphs" fill="#000">1 500</text>
<text stroke="#000" stroke-width="0.82" stroke-linejoin="round" x="1895.0" y="1065.8" font-size="51" font-weight="bold" textLength="163.6" lengthAdjust="spacingAndGlyphs" fill="#000">70 000</text>
<text stroke="#000" stroke-width="0.82" stroke-linejoin="round" x="1689.6" y="1168.7" font-size="51" font-weight="bold" textLength="198.2" lengthAdjust="spacingAndGlyphs" fill="#000">140 000</text>
<text stroke="#000" stroke-width="0.82" stroke-linejoin="round" x="1817.9" y="1562.4" font-size="51" font-weight="bold" textLength="240.7" lengthAdjust="spacingAndGlyphs" fill="#000">2 900 000</text>
<text stroke="#000" stroke-width="0.82" stroke-linejoin="round" x="2268.9" y="1312.6" font-size="51" font-weight="bold" textLength="240.7" lengthAdjust="spacingAndGlyphs" fill="#000">1 000 000</text>
<text stroke="#000" stroke-width="0.82" stroke-linejoin="round" x="1542.1" y="1745.9" font-size="51" font-weight="bold" textLength="165.3" lengthAdjust="spacingAndGlyphs" fill="#000">68 000</text>
<text stroke="#000" stroke-width="0.82" stroke-linejoin="round" x="1247.5" y="1896.4" font-size="51" font-weight="bold" textLength="165.5" lengthAdjust="spacingAndGlyphs" fill="#000">50 000</text>
<text stroke="#000" stroke-width="0.82" stroke-linejoin="round" x="1570.3" y="2013.5" font-size="51" font-weight="bold" textLength="196.4" lengthAdjust="spacingAndGlyphs" fill="#000">550 000</text>
<text stroke="#000" stroke-width="0.82" stroke-linejoin="round" x="1595.6" y="2223.3" font-size="51" font-weight="bold" textLength="165.1" lengthAdjust="spacingAndGlyphs" fill="#000">56 200</text>
<text stroke="#000" stroke-width="0.82" stroke-linejoin="round" x="1227.6" y="2319.5" font-size="51" font-weight="bold" textLength="134.7" lengthAdjust="spacingAndGlyphs" fill="#000">7 680</text>
<text stroke="#000" stroke-width="0.82" stroke-linejoin="round" x="1799.8" y="2577.5" font-size="51" font-weight="bold" textLength="165.6" lengthAdjust="spacingAndGlyphs" fill="#000">60 000</text>
<text stroke="#000" stroke-width="0.82" stroke-linejoin="round" x="1976.2" y="1953.1" font-size="51" font-weight="bold" textLength="196.5" lengthAdjust="spacingAndGlyphs" fill="#000">271 000</text>
<text stroke="#000" stroke-width="0.82" stroke-linejoin="round" x="626.1" y="1913.5" font-size="51" font-weight="bold" textLength="165.3" lengthAdjust="spacingAndGlyphs" fill="#000">77 320</text>
<text filter="url(#thin)" x="1094.5" y="870.8" font-size="52.5" font-weight="normal" textLength="222.7" lengthAdjust="spacingAndGlyphs" fill="#000">Norwegia</text>
<text filter="url(#thin)" x="1130.1" y="1252.4" font-size="52.5" font-weight="normal" textLength="134.9" lengthAdjust="spacingAndGlyphs" fill="#000">Dania</text>
<text filter="url(#thin)" x="916.0" y="1522.0" font-size="52.5" font-weight="normal" textLength="213.7" lengthAdjust="spacingAndGlyphs" fill="#000">Holandia</text>
<text filter="url(#thin)" x="1135.6" y="1637.5" font-size="52.5" font-weight="normal" textLength="175.2" lengthAdjust="spacingAndGlyphs" fill="#000">Niemcy</text>
<text filter="url(#thin)" x="718.6" y="1704.9" font-size="52.5" font-weight="normal" textLength="142.5" lengthAdjust="spacingAndGlyphs" fill="#000">Belgia</text>
<text filter="url(#thin)" x="812.3" y="1780.2" font-size="52.5" font-weight="normal" textLength="294.8" lengthAdjust="spacingAndGlyphs" fill="#000">Luksemburg</text>
<text filter="url(#thin)" x="1136.1" y="1805.7" font-size="52.5" font-weight="normal" textLength="385.3" lengthAdjust="spacingAndGlyphs" fill="#000">Czechy i Morawy</text>
<text filter="url(#thin)" x="1919.4" y="988.2" font-size="52.5" font-weight="normal" textLength="173.0" lengthAdjust="spacingAndGlyphs" fill="#000">Estonia</text>
<text filter="url(#thin)" x="1946.0" y="1218.8" font-size="52.5" font-weight="normal" textLength="139.8" lengthAdjust="spacingAndGlyphs" fill="#000">Łotwa</text>
<text filter="url(#thin)" x="1856.0" y="1320.2" font-size="52.5" font-weight="normal" textLength="123.4" lengthAdjust="spacingAndGlyphs" fill="#000">Litwa</text>
<text filter="url(#thin)" x="1857.6" y="1647.0" font-size="52.5" font-weight="normal" textLength="152.2" lengthAdjust="spacingAndGlyphs" fill="#000">Polska</text>
<text filter="url(#thin)" x="2340.3" y="1391.6" font-size="52.5" font-weight="normal" textLength="123.6" lengthAdjust="spacingAndGlyphs" fill="#000">ZSRR</text>
<text filter="url(#thin)" x="1639.5" y="1885.2" font-size="52.5" font-weight="normal" textLength="208.7" lengthAdjust="spacingAndGlyphs" fill="#000">Słowacja</text>
<text filter="url(#thin)" x="1255.1" y="2049.9" font-size="52.5" font-weight="normal" textLength="159.8" lengthAdjust="spacingAndGlyphs" fill="#000">Austria</text>
<text filter="url(#thin)" x="1593.1" y="2088.0" font-size="52.5" font-weight="normal" textLength="143.7" lengthAdjust="spacingAndGlyphs" fill="#000">Węgry</text>
<text filter="url(#thin)" x="1561.0" y="2365.7" font-size="52.5" font-weight="normal" textLength="258.3" lengthAdjust="spacingAndGlyphs" fill="#000">Jugosławia</text>
<text filter="url(#thin)" x="1228.2" y="2424.9" font-size="52.5" font-weight="normal" textLength="169.0" lengthAdjust="spacingAndGlyphs" fill="#000">Włochy</text>
<text filter="url(#thin)" x="1812.1" y="2701.0" font-size="52.5" font-weight="normal" textLength="146.0" lengthAdjust="spacingAndGlyphs" fill="#000">Grecja</text>
<text filter="url(#thin)" x="1966.5" y="2175.2" font-size="52.5" font-weight="normal" textLength="212.5" lengthAdjust="spacingAndGlyphs" fill="#000">Rumunia</text>
<text filter="url(#thin)" x="622.3" y="2071.6" font-size="52.5" font-weight="normal" textLength="168.9" lengthAdjust="spacingAndGlyphs" fill="#000">Francja</text>
<text filter="url(#thin)" y="2944.3" font-size="45" font-weight="normal" fill="#000"><tspan x="43.2" textLength="147.0" lengthAdjust="spacingAndGlyphs">Źródło:</tspan> <tspan x="200.3" textLength="166.7" lengthAdjust="spacingAndGlyphs">Ośrodek</tspan> <tspan x="377.6" textLength="206.0" lengthAdjust="spacingAndGlyphs">Informacji</tspan> <tspan x="594.0" textLength="104.0" lengthAdjust="spacingAndGlyphs">ONZ,</tspan> <tspan x="706.3" textLength="148.2" lengthAdjust="spacingAndGlyphs">granice</tspan> <tspan x="866.0" textLength="114.9" lengthAdjust="spacingAndGlyphs">przed</tspan> <tspan x="994.6" textLength="212.3" lengthAdjust="spacingAndGlyphs">wrześniem</tspan> <tspan x="1218.8" textLength="93.0" lengthAdjust="spacingAndGlyphs">1939</tspan> <tspan x="1324.9" textLength="26.6" lengthAdjust="spacingAndGlyphs">r.</tspan></text>
<rect x="42" y="2971.2" width="2583" height="4.3" fill="#000"/>
<ellipse cx="2584.3" cy="3023.3" rx="40.6" ry="24.3" fill="#fff" stroke="#111" stroke-width="1.8"/>
<text stroke="#111" stroke-width="1.3" stroke-linejoin="round" x="2550.4" y="3031.4" font-size="39" font-weight="bold" textLength="69.2" lengthAdjust="spacingAndGlyphs" fill="#111">pap</text>
</svg></body></html>
